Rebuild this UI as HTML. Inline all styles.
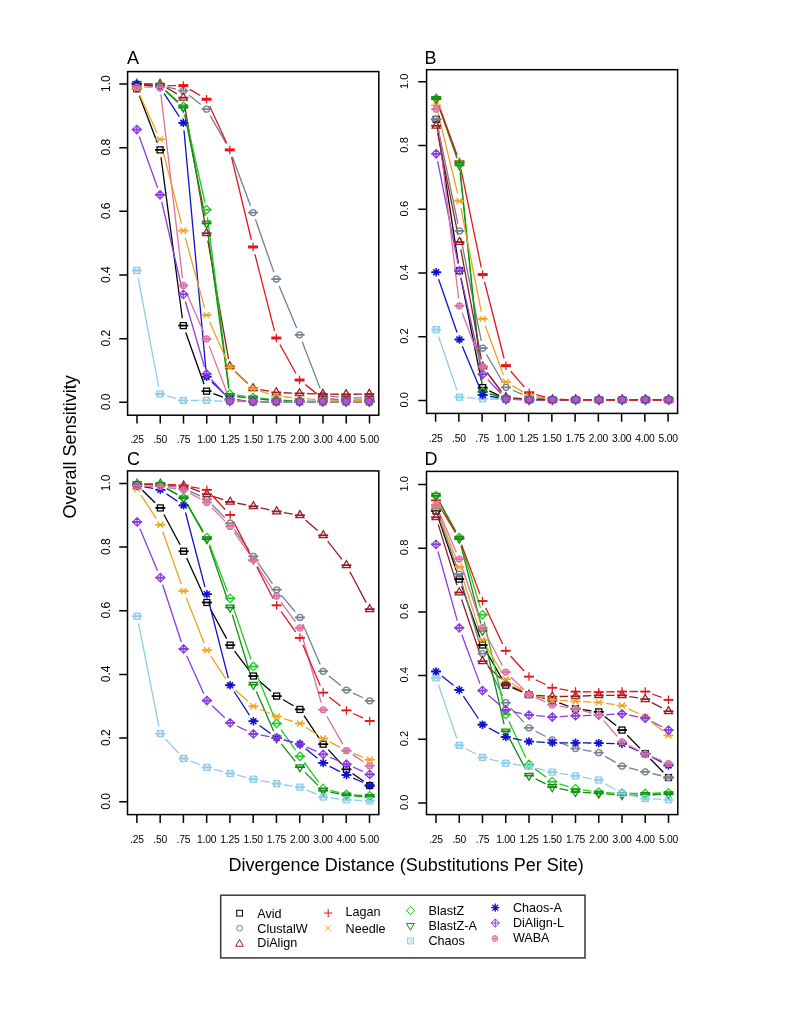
<!DOCTYPE html><html><head><meta charset="utf-8"><title>Overall Sensitivity</title><style>html,body{margin:0;padding:0;background:#fff;}svg{display:block;filter:blur(0.35px);}text{font-family:"Liberation Sans",sans-serif;}</style></head><body><svg width="785" height="1016" viewBox="0 0 785 1016" font-family='"Liberation Sans", sans-serif' fill="#000"><rect width="785" height="1016" fill="#fff"/><path d="M139.43 95.69L157.42 142.97M161.02 157.22L182.33 318.25M185.77 332.56L204.08 384.18M213.49 393.73L222.86 397.19M237.18 400.36L245.67 401.06M260.45 401.66L268.9 401.66M283.7 401.66L292.15 401.66M306.95 401.66L315.4 401.66M330.2 401.66L338.65 401.66M353.45 401.66L361.9 401.66" fill="none" stroke="#000000" stroke-width="1.3"/><path d="M144.18 84.51L152.67 85.09M167.28 87.17L176.07 89.1M189.1 95.29L200.75 104.54M210.22 115.57L226.13 143.46M232.37 156.83L250.48 205.65M255.49 219.58L273.86 272.13M279.15 285.95L296.7 327.99M302.21 341.73L320.14 388.39M330.16 396.1L338.69 397.04M353.45 397.84L361.9 397.84" fill="none" stroke="#708090" stroke-width="1.3"/><path d="M144.2 84L152.65 84M166.43 87.75L176.92 93.93M184.55 104.98L205.3 225.99M207.82 240.57L228.53 359.04M235.18 371.41L247.67 383.21M260.34 389.59L269.01 391.14M283.69 392.74L292.16 393.08M306.95 393.59L315.4 393.82M330.2 394.13L338.65 394.24M353.45 394.24L361.9 394.13" fill="none" stroke="#9A1A26" stroke-width="1.3"/><path d="M144.18 84.51L152.67 85.09M165.58 90.51L177.77 101.36M184.92 113.5L204.93 202.51M207.48 217.07L228.87 386.68M237.12 395.13L245.73 396.42M260.42 398.23L268.93 399.05M283.68 400.26L292.17 400.84M306.95 401.35L315.4 401.35M330.2 401.35L338.65 401.35M353.45 401.35L361.9 401.35" fill="none" stroke="#1ECC1E" stroke-width="1.3"/><path d="M144.18 84.51L152.67 85.09M165.43 90.67L177.92 102.47M184.76 114.81L205.09 216.16M207.54 230.75L228.81 388.6M237.16 396.74L245.69 397.67M260.42 399.19L268.93 400M283.7 400.91L292.15 401.14M306.95 401.35L315.4 401.35M330.2 401.35L338.65 401.35M353.45 401.35L361.9 401.35" fill="none" stroke="#128C12" stroke-width="1.3"/><path d="M138.17 277.8L158.68 386.75M167.19 395.98L176.16 398.44M190.7 400.39L199.15 400.39M213.94 400.79L222.41 401.26M237.2 401.66L245.65 401.66M260.45 401.66L268.9 401.66M283.7 401.66L292.15 401.66M306.95 401.66L315.4 401.66M330.2 401.66L338.65 401.66M353.45 401.66L361.9 401.66" fill="none" stroke="#8CCDEA" stroke-width="1.3"/><path d="M144.13 85L152.72 86.18M164.09 93.38L179.26 116.63M183.97 130.2L205.88 369.47M211.89 381.96L224.46 394M237.16 399.92L245.69 400.86M260.45 401.66L268.9 401.66M283.7 401.66L292.15 401.66M306.95 401.66L315.4 401.66M330.2 401.66L338.65 401.66M353.45 401.66L361.9 401.66" fill="none" stroke="#1010D0" stroke-width="1.3"/><path d="M139.28 136.49L157.57 187.8M161.73 201.97L181.62 287.19M185.38 301.5L204.47 366.87M211.47 379.5L224.88 394.55M237.18 400.58L245.67 401.16M260.45 401.66L268.9 401.66M283.7 401.66L292.15 401.66M306.95 401.66L315.4 401.66M330.2 401.66L338.65 401.66M353.45 401.66L361.9 401.66" fill="none" stroke="#8A3CE0" stroke-width="1.3"/><path d="M144.2 87.18L152.65 87.18M160.91 94.53L182.44 278.13M186.25 292.27L203.6 332.17M209.18 345.87L227.17 393.16M237.18 400.58L245.67 401.16M260.45 401.66L268.9 401.66M283.7 401.66L292.15 401.66M306.95 401.66L315.4 401.66M330.2 401.66L338.65 401.66M353.45 401.66L361.9 401.66" fill="none" stroke="#DC70A0" stroke-width="1.3"/><path d="M144.18 84.51L152.67 85.09M167.45 85.59L175.9 85.59M189.68 89.35L200.17 95.52M209.64 106L226.71 143.16M231.52 157.08L251.33 239.77M254.88 254.14L274.47 330.83M279.88 344.48L295.97 373.54M305.35 384.62L317 393.88M330.18 398.99L338.67 399.57M353.45 400.07L361.9 400.07" fill="none" stroke="#E8141C" stroke-width="1.3"/><path d="M139.89 95.5L156.96 132.66M161.88 146.56L181.47 223.56M185.27 237.87L204.58 307.95M209.56 321.85L226.79 360.53M235.22 372.33L247.63 383.89M260.14 391.07L269.21 393.8M283.66 396.74L292.19 397.67M306.94 398.89L315.41 399.35M330.2 399.96L338.65 400.19M353.45 400.39L361.9 400.39" fill="none" stroke="#F0A21E" stroke-width="1.3"/><path d="M131.8 88.77H141.8" stroke="#000000" stroke-width="1.8"/><rect x="133.8" y="85.77" width="6" height="6" fill="none" stroke="#000000" stroke-width="1.25"/><path d="M155.05 149.89H165.05" stroke="#000000" stroke-width="1.8"/><rect x="157.05" y="146.89" width="6" height="6" fill="none" stroke="#000000" stroke-width="1.25"/><path d="M178.3 325.59H188.3" stroke="#000000" stroke-width="1.8"/><rect x="180.3" y="322.59" width="6" height="6" fill="none" stroke="#000000" stroke-width="1.25"/><path d="M201.55 391.16H211.55" stroke="#000000" stroke-width="1.8"/><rect x="203.55" y="388.16" width="6" height="6" fill="none" stroke="#000000" stroke-width="1.25"/><path d="M224.8 399.75H234.8" stroke="#000000" stroke-width="1.8"/><rect x="226.8" y="396.75" width="6" height="6" fill="none" stroke="#000000" stroke-width="1.25"/><path d="M248.05 401.66H258.05" stroke="#000000" stroke-width="1.8"/><rect x="250.05" y="398.66" width="6" height="6" fill="none" stroke="#000000" stroke-width="1.25"/><path d="M271.3 401.66H281.3" stroke="#000000" stroke-width="1.8"/><rect x="273.3" y="398.66" width="6" height="6" fill="none" stroke="#000000" stroke-width="1.25"/><path d="M294.55 401.66H304.55" stroke="#000000" stroke-width="1.8"/><rect x="296.55" y="398.66" width="6" height="6" fill="none" stroke="#000000" stroke-width="1.25"/><path d="M317.8 401.66H327.8" stroke="#000000" stroke-width="1.8"/><rect x="319.8" y="398.66" width="6" height="6" fill="none" stroke="#000000" stroke-width="1.25"/><path d="M341.05 401.66H351.05" stroke="#000000" stroke-width="1.8"/><rect x="343.05" y="398.66" width="6" height="6" fill="none" stroke="#000000" stroke-width="1.25"/><path d="M364.3 401.66H374.3" stroke="#000000" stroke-width="1.8"/><rect x="366.3" y="398.66" width="6" height="6" fill="none" stroke="#000000" stroke-width="1.25"/><path d="M131.8 84H141.8" stroke="#708090" stroke-width="1.8"/><circle cx="136.8" cy="84" r="3" fill="none" stroke="#708090" stroke-width="1.25"/><path d="M155.05 85.59H165.05" stroke="#708090" stroke-width="1.8"/><circle cx="160.05" cy="85.59" r="3" fill="none" stroke="#708090" stroke-width="1.25"/><path d="M178.3 90.68H188.3" stroke="#708090" stroke-width="1.8"/><circle cx="183.3" cy="90.68" r="3" fill="none" stroke="#708090" stroke-width="1.25"/><path d="M201.55 109.15H211.55" stroke="#708090" stroke-width="1.8"/><circle cx="206.55" cy="109.15" r="3" fill="none" stroke="#708090" stroke-width="1.25"/><path d="M248.05 212.59H258.05" stroke="#708090" stroke-width="1.8"/><circle cx="253.05" cy="212.59" r="3" fill="none" stroke="#708090" stroke-width="1.25"/><path d="M271.3 279.12H281.3" stroke="#708090" stroke-width="1.8"/><circle cx="276.3" cy="279.12" r="3" fill="none" stroke="#708090" stroke-width="1.25"/><path d="M294.55 334.82H304.55" stroke="#708090" stroke-width="1.8"/><circle cx="299.55" cy="334.82" r="3" fill="none" stroke="#708090" stroke-width="1.25"/><path d="M317.8 395.3H327.8" stroke="#708090" stroke-width="1.8"/><circle cx="322.8" cy="395.3" r="3" fill="none" stroke="#708090" stroke-width="1.25"/><path d="M341.05 397.84H351.05" stroke="#708090" stroke-width="1.8"/><circle cx="346.05" cy="397.84" r="3" fill="none" stroke="#708090" stroke-width="1.25"/><path d="M364.3 397.84H374.3" stroke="#708090" stroke-width="1.8"/><circle cx="369.3" cy="397.84" r="3" fill="none" stroke="#708090" stroke-width="1.25"/><path d="M131.8 84H141.8" stroke="#9A1A26" stroke-width="1.8"/><path d="M136.8 79.33L140.84 86.33L132.76 86.33Z" fill="none" stroke="#9A1A26" stroke-width="1.25"/><path d="M155.05 84H165.05" stroke="#9A1A26" stroke-width="1.8"/><path d="M160.05 79.33L164.09 86.33L156.01 86.33Z" fill="none" stroke="#9A1A26" stroke-width="1.25"/><path d="M178.3 97.69H188.3" stroke="#9A1A26" stroke-width="1.8"/><path d="M183.3 93.02L187.34 100.02L179.26 100.02Z" fill="none" stroke="#9A1A26" stroke-width="1.25"/><path d="M201.55 233.28H211.55" stroke="#9A1A26" stroke-width="1.8"/><path d="M206.55 228.62L210.59 235.62L202.51 235.62Z" fill="none" stroke="#9A1A26" stroke-width="1.25"/><path d="M224.8 366.33H234.8" stroke="#9A1A26" stroke-width="1.8"/><path d="M229.8 361.67L233.84 368.66L225.76 368.66Z" fill="none" stroke="#9A1A26" stroke-width="1.25"/><path d="M248.05 388.29H258.05" stroke="#9A1A26" stroke-width="1.8"/><path d="M253.05 383.63L257.09 390.63L249.01 390.63Z" fill="none" stroke="#9A1A26" stroke-width="1.25"/><path d="M271.3 392.43H281.3" stroke="#9A1A26" stroke-width="1.8"/><path d="M276.3 387.77L280.34 394.77L272.26 394.77Z" fill="none" stroke="#9A1A26" stroke-width="1.25"/><path d="M294.55 393.39H304.55" stroke="#9A1A26" stroke-width="1.8"/><path d="M299.55 388.72L303.59 395.72L295.51 395.72Z" fill="none" stroke="#9A1A26" stroke-width="1.25"/><path d="M317.8 394.02H327.8" stroke="#9A1A26" stroke-width="1.8"/><path d="M322.8 389.36L326.84 396.36L318.76 396.36Z" fill="none" stroke="#9A1A26" stroke-width="1.25"/><path d="M341.05 394.34H351.05" stroke="#9A1A26" stroke-width="1.8"/><path d="M346.05 389.68L350.09 396.68L342.01 396.68Z" fill="none" stroke="#9A1A26" stroke-width="1.25"/><path d="M364.3 394.02H374.3" stroke="#9A1A26" stroke-width="1.8"/><path d="M369.3 389.36L373.34 396.36L365.26 396.36Z" fill="none" stroke="#9A1A26" stroke-width="1.25"/><path d="M131.8 84H141.8" stroke="#E8141C" stroke-width="3.0"/><path d="M132.56 84H141.04M136.8 79.76V88.24" stroke="#E8141C" stroke-width="1.25"/><path d="M155.05 85.59H165.05" stroke="#E8141C" stroke-width="3.0"/><path d="M155.81 85.59H164.29M160.05 81.35V89.83" stroke="#E8141C" stroke-width="1.25"/><path d="M178.3 85.59H188.3" stroke="#E8141C" stroke-width="3.0"/><path d="M179.06 85.59H187.54M183.3 81.35V89.83" stroke="#E8141C" stroke-width="1.25"/><path d="M201.55 99.28H211.55" stroke="#E8141C" stroke-width="3.0"/><path d="M202.31 99.28H210.79M206.55 95.04V103.52" stroke="#E8141C" stroke-width="1.25"/><path d="M224.8 149.89H234.8" stroke="#E8141C" stroke-width="3.0"/><path d="M225.56 149.89H234.04M229.8 145.65V154.13" stroke="#E8141C" stroke-width="1.25"/><path d="M248.05 246.97H258.05" stroke="#E8141C" stroke-width="3.0"/><path d="M248.81 246.97H257.29M253.05 242.73V251.21" stroke="#E8141C" stroke-width="1.25"/><path d="M271.3 338H281.3" stroke="#E8141C" stroke-width="3.0"/><path d="M272.06 338H280.54M276.3 333.76V342.25" stroke="#E8141C" stroke-width="1.25"/><path d="M294.55 380.02H304.55" stroke="#E8141C" stroke-width="3.0"/><path d="M295.31 380.02H303.79M299.55 375.78V384.26" stroke="#E8141C" stroke-width="1.25"/><path d="M317.8 398.48H327.8" stroke="#E8141C" stroke-width="3.0"/><path d="M318.56 398.48H327.04M322.8 394.24V402.72" stroke="#E8141C" stroke-width="1.25"/><path d="M341.05 400.07H351.05" stroke="#E8141C" stroke-width="3.0"/><path d="M341.81 400.07H350.29M346.05 395.83V404.31" stroke="#E8141C" stroke-width="1.25"/><path d="M364.3 400.07H374.3" stroke="#E8141C" stroke-width="3.0"/><path d="M365.06 400.07H373.54M369.3 395.83V404.31" stroke="#E8141C" stroke-width="1.25"/><path d="M131.8 88.77H141.8" stroke="#F0A21E" stroke-width="1.8"/><path d="M133.8 85.77L139.8 91.77M133.8 91.77L139.8 85.77" stroke="#F0A21E" stroke-width="1.25"/><path d="M155.05 139.38H165.05" stroke="#F0A21E" stroke-width="1.8"/><path d="M157.05 136.38L163.05 142.38M157.05 142.38L163.05 136.38" stroke="#F0A21E" stroke-width="1.25"/><path d="M178.3 230.74H188.3" stroke="#F0A21E" stroke-width="1.8"/><path d="M180.3 227.74L186.3 233.74M180.3 233.74L186.3 227.74" stroke="#F0A21E" stroke-width="1.25"/><path d="M201.55 315.09H211.55" stroke="#F0A21E" stroke-width="1.8"/><path d="M203.55 312.09L209.55 318.09M203.55 318.09L209.55 312.09" stroke="#F0A21E" stroke-width="1.25"/><path d="M224.8 367.29H234.8" stroke="#F0A21E" stroke-width="1.8"/><path d="M226.8 364.29L232.8 370.29M226.8 370.29L232.8 364.29" stroke="#F0A21E" stroke-width="1.25"/><path d="M248.05 388.93H258.05" stroke="#F0A21E" stroke-width="1.8"/><path d="M250.05 385.93L256.05 391.93M250.05 391.93L256.05 385.93" stroke="#F0A21E" stroke-width="1.25"/><path d="M271.3 395.93H281.3" stroke="#F0A21E" stroke-width="1.8"/><path d="M273.3 392.93L279.3 398.93M273.3 398.93L279.3 392.93" stroke="#F0A21E" stroke-width="1.25"/><path d="M294.55 398.48H304.55" stroke="#F0A21E" stroke-width="1.8"/><path d="M296.55 395.48L302.55 401.48M296.55 401.48L302.55 395.48" stroke="#F0A21E" stroke-width="1.25"/><path d="M317.8 399.75H327.8" stroke="#F0A21E" stroke-width="1.8"/><path d="M319.8 396.75L325.8 402.75M319.8 402.75L325.8 396.75" stroke="#F0A21E" stroke-width="1.25"/><path d="M341.05 400.39H351.05" stroke="#F0A21E" stroke-width="1.8"/><path d="M343.05 397.39L349.05 403.39M343.05 403.39L349.05 397.39" stroke="#F0A21E" stroke-width="1.25"/><path d="M364.3 400.39H374.3" stroke="#F0A21E" stroke-width="1.8"/><path d="M366.3 397.39L372.3 403.39M366.3 403.39L372.3 397.39" stroke="#F0A21E" stroke-width="1.25"/><path d="M131.8 84H141.8" stroke="#1ECC1E" stroke-width="1.8"/><path d="M136.8 79.76L141.04 84L136.8 88.24L132.56 84Z" fill="none" stroke="#1ECC1E" stroke-width="1.25"/><path d="M155.05 85.59H165.05" stroke="#1ECC1E" stroke-width="1.8"/><path d="M160.05 81.35L164.29 85.59L160.05 89.83L155.81 85.59Z" fill="none" stroke="#1ECC1E" stroke-width="1.25"/><path d="M178.3 106.28H188.3" stroke="#1ECC1E" stroke-width="1.8"/><path d="M183.3 102.04L187.54 106.28L183.3 110.52L179.06 106.28Z" fill="none" stroke="#1ECC1E" stroke-width="1.25"/><path d="M201.55 209.73H211.55" stroke="#1ECC1E" stroke-width="1.8"/><path d="M206.55 205.49L210.79 209.73L206.55 213.97L202.31 209.73Z" fill="none" stroke="#1ECC1E" stroke-width="1.25"/><path d="M224.8 394.02H234.8" stroke="#1ECC1E" stroke-width="1.8"/><path d="M229.8 389.78L234.04 394.02L229.8 398.27L225.56 394.02Z" fill="none" stroke="#1ECC1E" stroke-width="1.25"/><path d="M248.05 397.53H258.05" stroke="#1ECC1E" stroke-width="1.8"/><path d="M253.05 393.28L257.29 397.53L253.05 401.77L248.81 397.53Z" fill="none" stroke="#1ECC1E" stroke-width="1.25"/><path d="M271.3 399.75H281.3" stroke="#1ECC1E" stroke-width="1.8"/><path d="M276.3 395.51L280.54 399.75L276.3 404L272.06 399.75Z" fill="none" stroke="#1ECC1E" stroke-width="1.25"/><path d="M294.55 401.35H304.55" stroke="#1ECC1E" stroke-width="1.8"/><path d="M299.55 397.1L303.79 401.35L299.55 405.59L295.31 401.35Z" fill="none" stroke="#1ECC1E" stroke-width="1.25"/><path d="M317.8 401.35H327.8" stroke="#1ECC1E" stroke-width="1.8"/><path d="M322.8 397.1L327.04 401.35L322.8 405.59L318.56 401.35Z" fill="none" stroke="#1ECC1E" stroke-width="1.25"/><path d="M341.05 401.35H351.05" stroke="#1ECC1E" stroke-width="1.8"/><path d="M346.05 397.1L350.29 401.35L346.05 405.59L341.81 401.35Z" fill="none" stroke="#1ECC1E" stroke-width="1.25"/><path d="M364.3 401.35H374.3" stroke="#1ECC1E" stroke-width="1.8"/><path d="M369.3 397.1L373.54 401.35L369.3 405.59L365.06 401.35Z" fill="none" stroke="#1ECC1E" stroke-width="1.25"/><path d="M131.8 84H141.8" stroke="#128C12" stroke-width="1.8"/><path d="M136.8 88.67L140.84 81.67L132.76 81.67Z" fill="none" stroke="#128C12" stroke-width="1.25"/><path d="M155.05 85.59H165.05" stroke="#128C12" stroke-width="1.8"/><path d="M160.05 90.26L164.09 83.26L156.01 83.26Z" fill="none" stroke="#128C12" stroke-width="1.25"/><path d="M178.3 107.55H188.3" stroke="#128C12" stroke-width="1.8"/><path d="M183.3 112.22L187.34 105.22L179.26 105.22Z" fill="none" stroke="#128C12" stroke-width="1.25"/><path d="M201.55 223.42H211.55" stroke="#128C12" stroke-width="1.8"/><path d="M206.55 228.08L210.59 221.08L202.51 221.08Z" fill="none" stroke="#128C12" stroke-width="1.25"/><path d="M224.8 395.93H234.8" stroke="#128C12" stroke-width="1.8"/><path d="M229.8 400.6L233.84 393.6L225.76 393.6Z" fill="none" stroke="#128C12" stroke-width="1.25"/><path d="M248.05 398.48H258.05" stroke="#128C12" stroke-width="1.8"/><path d="M253.05 403.15L257.09 396.15L249.01 396.15Z" fill="none" stroke="#128C12" stroke-width="1.25"/><path d="M271.3 400.71H281.3" stroke="#128C12" stroke-width="1.8"/><path d="M276.3 405.37L280.34 398.38L272.26 398.38Z" fill="none" stroke="#128C12" stroke-width="1.25"/><path d="M294.55 401.35H304.55" stroke="#128C12" stroke-width="1.8"/><path d="M299.55 406.01L303.59 399.01L295.51 399.01Z" fill="none" stroke="#128C12" stroke-width="1.25"/><path d="M317.8 401.35H327.8" stroke="#128C12" stroke-width="1.8"/><path d="M322.8 406.01L326.84 399.01L318.76 399.01Z" fill="none" stroke="#128C12" stroke-width="1.25"/><path d="M341.05 401.35H351.05" stroke="#128C12" stroke-width="1.8"/><path d="M346.05 406.01L350.09 399.01L342.01 399.01Z" fill="none" stroke="#128C12" stroke-width="1.25"/><path d="M364.3 401.35H374.3" stroke="#128C12" stroke-width="1.8"/><path d="M369.3 406.01L373.34 399.01L365.26 399.01Z" fill="none" stroke="#128C12" stroke-width="1.25"/><path d="M131.8 270.52H141.8" stroke="#8CCDEA" stroke-width="1.8"/><rect x="133.8" y="267.52" width="6" height="6" fill="none" stroke="#8CCDEA" stroke-width="1.25"/><path d="M133.8 267.52L139.8 273.52M133.8 273.52L139.8 267.52" stroke="#8CCDEA" stroke-width="1.0"/><path d="M155.05 394.02H165.05" stroke="#8CCDEA" stroke-width="1.8"/><rect x="157.05" y="391.02" width="6" height="6" fill="none" stroke="#8CCDEA" stroke-width="1.25"/><path d="M157.05 391.02L163.05 397.02M157.05 397.02L163.05 391.02" stroke="#8CCDEA" stroke-width="1.0"/><path d="M178.3 400.39H188.3" stroke="#8CCDEA" stroke-width="1.8"/><rect x="180.3" y="397.39" width="6" height="6" fill="none" stroke="#8CCDEA" stroke-width="1.25"/><path d="M180.3 397.39L186.3 403.39M180.3 403.39L186.3 397.39" stroke="#8CCDEA" stroke-width="1.0"/><path d="M201.55 400.39H211.55" stroke="#8CCDEA" stroke-width="1.8"/><rect x="203.55" y="397.39" width="6" height="6" fill="none" stroke="#8CCDEA" stroke-width="1.25"/><path d="M203.55 397.39L209.55 403.39M203.55 403.39L209.55 397.39" stroke="#8CCDEA" stroke-width="1.0"/><path d="M224.8 401.66H234.8" stroke="#8CCDEA" stroke-width="1.8"/><rect x="226.8" y="398.66" width="6" height="6" fill="none" stroke="#8CCDEA" stroke-width="1.25"/><path d="M226.8 398.66L232.8 404.66M226.8 404.66L232.8 398.66" stroke="#8CCDEA" stroke-width="1.0"/><path d="M248.05 401.66H258.05" stroke="#8CCDEA" stroke-width="1.8"/><rect x="250.05" y="398.66" width="6" height="6" fill="none" stroke="#8CCDEA" stroke-width="1.25"/><path d="M250.05 398.66L256.05 404.66M250.05 404.66L256.05 398.66" stroke="#8CCDEA" stroke-width="1.0"/><path d="M271.3 401.66H281.3" stroke="#8CCDEA" stroke-width="1.8"/><rect x="273.3" y="398.66" width="6" height="6" fill="none" stroke="#8CCDEA" stroke-width="1.25"/><path d="M273.3 398.66L279.3 404.66M273.3 404.66L279.3 398.66" stroke="#8CCDEA" stroke-width="1.0"/><path d="M294.55 401.66H304.55" stroke="#8CCDEA" stroke-width="1.8"/><rect x="296.55" y="398.66" width="6" height="6" fill="none" stroke="#8CCDEA" stroke-width="1.25"/><path d="M296.55 398.66L302.55 404.66M296.55 404.66L302.55 398.66" stroke="#8CCDEA" stroke-width="1.0"/><path d="M317.8 401.66H327.8" stroke="#8CCDEA" stroke-width="1.8"/><rect x="319.8" y="398.66" width="6" height="6" fill="none" stroke="#8CCDEA" stroke-width="1.25"/><path d="M319.8 398.66L325.8 404.66M319.8 404.66L325.8 398.66" stroke="#8CCDEA" stroke-width="1.0"/><path d="M341.05 401.66H351.05" stroke="#8CCDEA" stroke-width="1.8"/><rect x="343.05" y="398.66" width="6" height="6" fill="none" stroke="#8CCDEA" stroke-width="1.25"/><path d="M343.05 398.66L349.05 404.66M343.05 404.66L349.05 398.66" stroke="#8CCDEA" stroke-width="1.0"/><path d="M364.3 401.66H374.3" stroke="#8CCDEA" stroke-width="1.8"/><rect x="366.3" y="398.66" width="6" height="6" fill="none" stroke="#8CCDEA" stroke-width="1.25"/><path d="M366.3 398.66L372.3 404.66M366.3 404.66L372.3 398.66" stroke="#8CCDEA" stroke-width="1.0"/><path d="M131.8 84H141.8" stroke="#1010D0" stroke-width="1.8"/><path d="M132.56 84H141.04M136.8 79.76V88.24M133.8 81L139.8 87M133.8 87L139.8 81" stroke="#1010D0" stroke-width="1.5625"/><path d="M155.05 87.18H165.05" stroke="#1010D0" stroke-width="1.8"/><path d="M155.81 87.18H164.29M160.05 82.94V91.43M157.05 84.18L163.05 90.18M157.05 90.18L163.05 84.18" stroke="#1010D0" stroke-width="1.5625"/><path d="M178.3 122.83H188.3" stroke="#1010D0" stroke-width="1.8"/><path d="M179.06 122.83H187.54M183.3 118.59V127.08M180.3 119.83L186.3 125.83M180.3 125.83L186.3 119.83" stroke="#1010D0" stroke-width="1.5625"/><path d="M201.55 376.84H211.55" stroke="#1010D0" stroke-width="1.8"/><path d="M202.31 376.84H210.79M206.55 372.59V381.08M203.55 373.84L209.55 379.84M203.55 379.84L209.55 373.84" stroke="#1010D0" stroke-width="1.5625"/><path d="M224.8 399.12H234.8" stroke="#1010D0" stroke-width="1.8"/><path d="M225.56 399.12H234.04M229.8 394.87V403.36M226.8 396.12L232.8 402.12M226.8 402.12L232.8 396.12" stroke="#1010D0" stroke-width="1.5625"/><path d="M248.05 401.66H258.05" stroke="#1010D0" stroke-width="1.8"/><path d="M248.81 401.66H257.29M253.05 397.42V405.91M250.05 398.66L256.05 404.66M250.05 404.66L256.05 398.66" stroke="#1010D0" stroke-width="1.5625"/><path d="M271.3 401.66H281.3" stroke="#1010D0" stroke-width="1.8"/><path d="M272.06 401.66H280.54M276.3 397.42V405.91M273.3 398.66L279.3 404.66M273.3 404.66L279.3 398.66" stroke="#1010D0" stroke-width="1.5625"/><path d="M294.55 401.66H304.55" stroke="#1010D0" stroke-width="1.8"/><path d="M295.31 401.66H303.79M299.55 397.42V405.91M296.55 398.66L302.55 404.66M296.55 404.66L302.55 398.66" stroke="#1010D0" stroke-width="1.5625"/><path d="M317.8 401.66H327.8" stroke="#1010D0" stroke-width="1.8"/><path d="M318.56 401.66H327.04M322.8 397.42V405.91M319.8 398.66L325.8 404.66M319.8 404.66L325.8 398.66" stroke="#1010D0" stroke-width="1.5625"/><path d="M341.05 401.66H351.05" stroke="#1010D0" stroke-width="1.8"/><path d="M341.81 401.66H350.29M346.05 397.42V405.91M343.05 398.66L349.05 404.66M343.05 404.66L349.05 398.66" stroke="#1010D0" stroke-width="1.5625"/><path d="M364.3 401.66H374.3" stroke="#1010D0" stroke-width="1.8"/><path d="M365.06 401.66H373.54M369.3 397.42V405.91M366.3 398.66L372.3 404.66M366.3 404.66L372.3 398.66" stroke="#1010D0" stroke-width="1.5625"/><path d="M131.8 129.52H141.8" stroke="#8A3CE0" stroke-width="1.8"/><path d="M136.8 125.27L141.04 129.52L136.8 133.76L132.56 129.52ZM132.56 129.52H141.04M136.8 125.27V133.76" fill="none" stroke="#8A3CE0" stroke-width="1.25"/><path d="M155.05 194.77H165.05" stroke="#8A3CE0" stroke-width="1.8"/><path d="M160.05 190.53L164.29 194.77L160.05 199.01L155.81 194.77ZM155.81 194.77H164.29M160.05 190.53V199.01" fill="none" stroke="#8A3CE0" stroke-width="1.25"/><path d="M178.3 294.4H188.3" stroke="#8A3CE0" stroke-width="1.8"/><path d="M183.3 290.15L187.54 294.4L183.3 298.64L179.06 294.4ZM179.06 294.4H187.54M183.3 290.15V298.64" fill="none" stroke="#8A3CE0" stroke-width="1.25"/><path d="M201.55 373.97H211.55" stroke="#8A3CE0" stroke-width="1.8"/><path d="M206.55 369.73L210.79 373.97L206.55 378.21L202.31 373.97ZM202.31 373.97H210.79M206.55 369.73V378.21" fill="none" stroke="#8A3CE0" stroke-width="1.25"/><path d="M224.8 400.07H234.8" stroke="#8A3CE0" stroke-width="1.8"/><path d="M229.8 395.83L234.04 400.07L229.8 404.31L225.56 400.07ZM225.56 400.07H234.04M229.8 395.83V404.31" fill="none" stroke="#8A3CE0" stroke-width="1.25"/><path d="M248.05 401.66H258.05" stroke="#8A3CE0" stroke-width="1.8"/><path d="M253.05 397.42L257.29 401.66L253.05 405.91L248.81 401.66ZM248.81 401.66H257.29M253.05 397.42V405.91" fill="none" stroke="#8A3CE0" stroke-width="1.25"/><path d="M271.3 401.66H281.3" stroke="#8A3CE0" stroke-width="1.8"/><path d="M276.3 397.42L280.54 401.66L276.3 405.91L272.06 401.66ZM272.06 401.66H280.54M276.3 397.42V405.91" fill="none" stroke="#8A3CE0" stroke-width="1.25"/><path d="M294.55 401.66H304.55" stroke="#8A3CE0" stroke-width="1.8"/><path d="M299.55 397.42L303.79 401.66L299.55 405.91L295.31 401.66ZM295.31 401.66H303.79M299.55 397.42V405.91" fill="none" stroke="#8A3CE0" stroke-width="1.25"/><path d="M317.8 401.66H327.8" stroke="#8A3CE0" stroke-width="1.8"/><path d="M322.8 397.42L327.04 401.66L322.8 405.91L318.56 401.66ZM318.56 401.66H327.04M322.8 397.42V405.91" fill="none" stroke="#8A3CE0" stroke-width="1.25"/><path d="M341.05 401.66H351.05" stroke="#8A3CE0" stroke-width="1.8"/><path d="M346.05 397.42L350.29 401.66L346.05 405.91L341.81 401.66ZM341.81 401.66H350.29M346.05 397.42V405.91" fill="none" stroke="#8A3CE0" stroke-width="1.25"/><path d="M364.3 401.66H374.3" stroke="#8A3CE0" stroke-width="1.8"/><path d="M369.3 397.42L373.54 401.66L369.3 405.91L365.06 401.66ZM365.06 401.66H373.54M369.3 397.42V405.91" fill="none" stroke="#8A3CE0" stroke-width="1.25"/><path d="M131.8 87.18H141.8" stroke="#DC70A0" stroke-width="1.8"/><circle cx="136.8" cy="87.18" r="3" fill="#DC70A0" fill-opacity="0.4" stroke="#DC70A0" stroke-width="1.25"/><path d="M133.8 87.18H139.8M136.8 84.18V90.18" stroke="#DC70A0" stroke-width="1.0"/><path d="M155.05 87.18H165.05" stroke="#DC70A0" stroke-width="1.8"/><circle cx="160.05" cy="87.18" r="3" fill="#DC70A0" fill-opacity="0.4" stroke="#DC70A0" stroke-width="1.25"/><path d="M157.05 87.18H163.05M160.05 84.18V90.18" stroke="#DC70A0" stroke-width="1.0"/><path d="M178.3 285.48H188.3" stroke="#DC70A0" stroke-width="1.8"/><circle cx="183.3" cy="285.48" r="3" fill="#DC70A0" fill-opacity="0.4" stroke="#DC70A0" stroke-width="1.25"/><path d="M180.3 285.48H186.3M183.3 282.48V288.48" stroke="#DC70A0" stroke-width="1.0"/><path d="M201.55 338.96H211.55" stroke="#DC70A0" stroke-width="1.8"/><circle cx="206.55" cy="338.96" r="3" fill="#DC70A0" fill-opacity="0.4" stroke="#DC70A0" stroke-width="1.25"/><path d="M203.55 338.96H209.55M206.55 335.96V341.96" stroke="#DC70A0" stroke-width="1.0"/><path d="M224.8 400.07H234.8" stroke="#DC70A0" stroke-width="1.8"/><circle cx="229.8" cy="400.07" r="3" fill="#DC70A0" fill-opacity="0.4" stroke="#DC70A0" stroke-width="1.25"/><path d="M226.8 400.07H232.8M229.8 397.07V403.07" stroke="#DC70A0" stroke-width="1.0"/><path d="M248.05 401.66H258.05" stroke="#DC70A0" stroke-width="1.8"/><circle cx="253.05" cy="401.66" r="3" fill="#DC70A0" fill-opacity="0.4" stroke="#DC70A0" stroke-width="1.25"/><path d="M250.05 401.66H256.05M253.05 398.66V404.66" stroke="#DC70A0" stroke-width="1.0"/><path d="M271.3 401.66H281.3" stroke="#DC70A0" stroke-width="1.8"/><circle cx="276.3" cy="401.66" r="3" fill="#DC70A0" fill-opacity="0.4" stroke="#DC70A0" stroke-width="1.25"/><path d="M273.3 401.66H279.3M276.3 398.66V404.66" stroke="#DC70A0" stroke-width="1.0"/><path d="M294.55 401.66H304.55" stroke="#DC70A0" stroke-width="1.8"/><circle cx="299.55" cy="401.66" r="3" fill="#DC70A0" fill-opacity="0.4" stroke="#DC70A0" stroke-width="1.25"/><path d="M296.55 401.66H302.55M299.55 398.66V404.66" stroke="#DC70A0" stroke-width="1.0"/><path d="M317.8 401.66H327.8" stroke="#DC70A0" stroke-width="1.8"/><circle cx="322.8" cy="401.66" r="3" fill="#DC70A0" fill-opacity="0.4" stroke="#DC70A0" stroke-width="1.25"/><path d="M319.8 401.66H325.8M322.8 398.66V404.66" stroke="#DC70A0" stroke-width="1.0"/><path d="M341.05 401.66H351.05" stroke="#DC70A0" stroke-width="1.8"/><circle cx="346.05" cy="401.66" r="3" fill="#DC70A0" fill-opacity="0.4" stroke="#DC70A0" stroke-width="1.25"/><path d="M343.05 401.66H349.05M346.05 398.66V404.66" stroke="#DC70A0" stroke-width="1.0"/><path d="M364.3 401.66H374.3" stroke="#DC70A0" stroke-width="1.8"/><circle cx="369.3" cy="401.66" r="3" fill="#DC70A0" fill-opacity="0.4" stroke="#DC70A0" stroke-width="1.25"/><path d="M366.3 401.66H372.3M369.3 398.66V404.66" stroke="#DC70A0" stroke-width="1.0"/><circle cx="229.8" cy="401.35" r="3.5" fill="#AE5ACC" stroke="#703494" stroke-width="0.9"/><path d="M229.8 396.15V397.75M229.8 404.95V406.55" stroke="#6A2E8E" stroke-width="1"/><circle cx="253.05" cy="401.35" r="3.5" fill="#AE5ACC" stroke="#703494" stroke-width="0.9"/><path d="M253.05 396.15V397.75M253.05 404.95V406.55" stroke="#6A2E8E" stroke-width="1"/><circle cx="276.3" cy="401.35" r="3.5" fill="#AE5ACC" stroke="#703494" stroke-width="0.9"/><path d="M276.3 396.15V397.75M276.3 404.95V406.55" stroke="#6A2E8E" stroke-width="1"/><circle cx="299.55" cy="401.35" r="3.5" fill="#AE5ACC" stroke="#703494" stroke-width="0.9"/><path d="M299.55 396.15V397.75M299.55 404.95V406.55" stroke="#6A2E8E" stroke-width="1"/><circle cx="322.8" cy="401.35" r="3.5" fill="#AE5ACC" stroke="#703494" stroke-width="0.9"/><path d="M322.8 396.15V397.75M322.8 404.95V406.55" stroke="#6A2E8E" stroke-width="1"/><circle cx="346.05" cy="401.35" r="3.5" fill="#AE5ACC" stroke="#703494" stroke-width="0.9"/><path d="M346.05 396.15V397.75M346.05 404.95V406.55" stroke="#6A2E8E" stroke-width="1"/><circle cx="369.3" cy="401.35" r="3.5" fill="#AE5ACC" stroke="#703494" stroke-width="0.9"/><path d="M369.3 396.15V397.75M369.3 404.95V406.55" stroke="#6A2E8E" stroke-width="1"/><rect x="127.6" y="71.6" width="251.2" height="343.6" fill="none" stroke="#000" stroke-width="1.5"/><path d="M137 415.2V423.5M160.25 415.2V423.5M183.5 415.2V423.5M206.75 415.2V423.5M230 415.2V423.5M253.25 415.2V423.5M276.5 415.2V423.5M299.75 415.2V423.5M323 415.2V423.5M346.25 415.2V423.5M369.5 415.2V423.5M127.6 402.3H119.3M127.6 338.64H119.3M127.6 274.98H119.3M127.6 211.32H119.3M127.6 147.66H119.3M127.6 84H119.3" stroke="#000" stroke-width="1.5" fill="none"/><text x="137" y="443.3" font-size="10.3" letter-spacing="-0.2" text-anchor="middle">.25</text><text x="160.25" y="443.3" font-size="10.3" letter-spacing="-0.2" text-anchor="middle">.50</text><text x="183.5" y="443.3" font-size="10.3" letter-spacing="-0.2" text-anchor="middle">.75</text><text x="206.75" y="443.3" font-size="10.3" letter-spacing="-0.2" text-anchor="middle">1.00</text><text x="230" y="443.3" font-size="10.3" letter-spacing="-0.2" text-anchor="middle">1.25</text><text x="253.25" y="443.3" font-size="10.3" letter-spacing="-0.2" text-anchor="middle">1.50</text><text x="276.5" y="443.3" font-size="10.3" letter-spacing="-0.2" text-anchor="middle">1.75</text><text x="299.75" y="443.3" font-size="10.3" letter-spacing="-0.2" text-anchor="middle">2.00</text><text x="323" y="443.3" font-size="10.3" letter-spacing="-0.2" text-anchor="middle">3.00</text><text x="346.25" y="443.3" font-size="10.3" letter-spacing="-0.2" text-anchor="middle">4.00</text><text x="369.5" y="443.3" font-size="10.3" letter-spacing="-0.2" text-anchor="middle">5.00</text><text transform="translate(109.8 401.9) rotate(-90)" font-size="12" text-anchor="middle">0.0</text><text transform="translate(109.8 338.24) rotate(-90)" font-size="12" text-anchor="middle">0.2</text><text transform="translate(109.8 274.58) rotate(-90)" font-size="12" text-anchor="middle">0.4</text><text transform="translate(109.8 210.92) rotate(-90)" font-size="12" text-anchor="middle">0.6</text><text transform="translate(109.8 147.26) rotate(-90)" font-size="12" text-anchor="middle">0.8</text><text transform="translate(109.8 83.6) rotate(-90)" font-size="12" text-anchor="middle">1.0</text><text x="127.1" y="64.3" font-size="18">A</text><path d="M437.32 126.71L458.33 263.42M460.89 277.99L481.26 380.4M489.37 390.86L499.28 395.61M513.34 399.11L521.81 399.46M536.6 399.76L545.05 399.76M559.85 399.76L568.3 399.76M583.1 399.76L591.55 399.76M606.35 399.76L614.8 399.76M629.6 399.76L638.05 399.76M652.85 399.76L661.3 399.76" fill="none" stroke="#000000" stroke-width="1.3"/><path d="M437.71 126.32L457.94 223.66M460.89 238.16L481.26 340.89M486.48 354.51L502.17 380.97M512.76 390.23L522.39 394.32M536.56 398.02L545.09 398.96M559.85 399.76L568.3 399.76M583.1 399.76L591.55 399.76M606.35 399.76L614.8 399.76M629.6 399.76L638.05 399.76M652.85 399.76L661.3 399.76" fill="none" stroke="#708090" stroke-width="1.3"/><path d="M438.7 105.33L456.95 156.08M460.2 170.41L481.95 384.44M489.79 393.93L498.86 396.67M513.34 399.11L521.81 399.46M536.6 399.76L545.05 399.76M559.85 399.76L568.3 399.76M583.1 399.76L591.55 399.76M606.35 399.76L614.8 399.76M629.6 399.76L638.05 399.76M652.85 399.76L661.3 399.76" fill="none" stroke="#1ECC1E" stroke-width="1.3"/><path d="M438.65 105.99L457 158.29M460.21 172.63L481.94 384.44M489.79 393.93L498.86 396.67M513.34 399.11L521.81 399.46M536.6 399.76L545.05 399.76M559.85 399.76L568.3 399.76M583.1 399.76L591.55 399.76M606.35 399.76L614.8 399.76M629.6 399.76L638.05 399.76M652.85 399.76L661.3 399.76" fill="none" stroke="#128C12" stroke-width="1.3"/><path d="M438.61 336.67L457.04 390.22M466.83 397.72L475.32 398.3M490.1 399.01L498.55 399.24M513.35 399.55L521.8 399.66M536.6 399.76L545.05 399.76M559.85 399.76L568.3 399.76M583.1 399.76L591.55 399.76M606.35 399.76L614.8 399.76M629.6 399.76L638.05 399.76M652.85 399.76L661.3 399.76" fill="none" stroke="#8CCDEA" stroke-width="1.3"/><path d="M438.62 279.32L457.03 332.55M462.31 346.37L479.84 388.16M489.99 396.28L498.66 397.83M513.35 399.33L521.8 399.56M536.6 399.76L545.05 399.76M559.85 399.76L568.3 399.76M583.1 399.76L591.55 399.76M606.35 399.76L614.8 399.76M629.6 399.76L638.05 399.76M652.85 399.76L661.3 399.76" fill="none" stroke="#1010D0" stroke-width="1.3"/><path d="M437.64 161.06L458.01 263.47M461.07 277.95L481.08 367.05M487.79 379.65L500.86 393.44M513.34 399.11L521.81 399.46M536.6 399.76L545.05 399.76M559.85 399.76L568.3 399.76M583.1 399.76L591.55 399.76M606.35 399.76L614.8 399.76M629.6 399.76L638.05 399.76M652.85 399.76L661.3 399.76" fill="none" stroke="#8A3CE0" stroke-width="1.3"/><path d="M437.07 116.55L458.58 298.43M462.09 312.69L480.06 359.72M487.03 372.63L501.62 392.81M513.34 399.11L521.81 399.46M536.6 399.76L545.05 399.76M559.85 399.76L568.3 399.76M583.1 399.76L591.55 399.76M606.35 399.76L614.8 399.76M629.6 399.76L638.05 399.76M652.85 399.76L661.3 399.76" fill="none" stroke="#DC70A0" stroke-width="1.3"/><path d="M437.95 112.57L457.7 193.77M460.88 208.22L481.27 311.58M485.26 325.78L503.39 374.98M512.33 385.68L522.82 391.86M536.52 396.72L545.13 398.02M559.85 399.33L568.3 399.56M583.1 399.76L591.55 399.76M606.35 399.76L614.8 399.76M629.6 399.76L638.05 399.76M652.85 399.76L661.3 399.76" fill="none" stroke="#F0A21E" stroke-width="1.3"/><path d="M437.65 133.02L458 234.8M460.81 249.33L481.34 359.35M487.18 372.52L501.47 391.32M513.32 397.92L521.83 398.74M536.6 399.55L545.05 399.66M559.85 399.76L568.3 399.76M583.1 399.76L591.55 399.76M606.35 399.76L614.8 399.76M629.6 399.76L638.05 399.76M652.85 399.76L661.3 399.76" fill="none" stroke="#9A1A26" stroke-width="1.3"/><path d="M438.74 105L456.91 154.82M460.94 169.02L481.21 267.31M484.53 281.72L504.12 358.5M510.77 371.29L524.38 387.14M536.34 394.71L545.31 397.17M559.85 399.33L568.3 399.56M583.1 399.76L591.55 399.76M606.35 399.76L614.8 399.76M629.6 399.76L638.05 399.76M652.85 399.76L661.3 399.76" fill="none" stroke="#E8141C" stroke-width="1.3"/><path d="M431.2 119.39H441.2" stroke="#000000" stroke-width="1.8"/><rect x="433.2" y="116.39" width="6" height="6" fill="none" stroke="#000000" stroke-width="1.25"/><path d="M454.45 270.73H464.45" stroke="#000000" stroke-width="1.8"/><rect x="456.45" y="267.73" width="6" height="6" fill="none" stroke="#000000" stroke-width="1.25"/><path d="M477.7 387.66H487.7" stroke="#000000" stroke-width="1.8"/><rect x="479.7" y="384.66" width="6" height="6" fill="none" stroke="#000000" stroke-width="1.25"/><path d="M500.95 398.81H510.95" stroke="#000000" stroke-width="1.8"/><rect x="502.95" y="395.81" width="6" height="6" fill="none" stroke="#000000" stroke-width="1.25"/><path d="M524.2 399.76H534.2" stroke="#000000" stroke-width="1.8"/><rect x="526.2" y="396.76" width="6" height="6" fill="none" stroke="#000000" stroke-width="1.25"/><path d="M547.45 399.76H557.45" stroke="#000000" stroke-width="1.8"/><rect x="549.45" y="396.76" width="6" height="6" fill="none" stroke="#000000" stroke-width="1.25"/><path d="M570.7 399.76H580.7" stroke="#000000" stroke-width="1.8"/><rect x="572.7" y="396.76" width="6" height="6" fill="none" stroke="#000000" stroke-width="1.25"/><path d="M593.95 399.76H603.95" stroke="#000000" stroke-width="1.8"/><rect x="595.95" y="396.76" width="6" height="6" fill="none" stroke="#000000" stroke-width="1.25"/><path d="M617.2 399.76H627.2" stroke="#000000" stroke-width="1.8"/><rect x="619.2" y="396.76" width="6" height="6" fill="none" stroke="#000000" stroke-width="1.25"/><path d="M640.45 399.76H650.45" stroke="#000000" stroke-width="1.8"/><rect x="642.45" y="396.76" width="6" height="6" fill="none" stroke="#000000" stroke-width="1.25"/><path d="M663.7 399.76H673.7" stroke="#000000" stroke-width="1.8"/><rect x="665.7" y="396.76" width="6" height="6" fill="none" stroke="#000000" stroke-width="1.25"/><path d="M431.2 119.08H441.2" stroke="#708090" stroke-width="1.8"/><circle cx="436.2" cy="119.08" r="3" fill="none" stroke="#708090" stroke-width="1.25"/><path d="M454.45 230.9H464.45" stroke="#708090" stroke-width="1.8"/><circle cx="459.45" cy="230.9" r="3" fill="none" stroke="#708090" stroke-width="1.25"/><path d="M477.7 348.15H487.7" stroke="#708090" stroke-width="1.8"/><circle cx="482.7" cy="348.15" r="3" fill="none" stroke="#708090" stroke-width="1.25"/><path d="M500.95 387.34H510.95" stroke="#708090" stroke-width="1.8"/><circle cx="505.95" cy="387.34" r="3" fill="none" stroke="#708090" stroke-width="1.25"/><path d="M524.2 397.21H534.2" stroke="#708090" stroke-width="1.8"/><circle cx="529.2" cy="397.21" r="3" fill="none" stroke="#708090" stroke-width="1.25"/><path d="M547.45 399.76H557.45" stroke="#708090" stroke-width="1.8"/><circle cx="552.45" cy="399.76" r="3" fill="none" stroke="#708090" stroke-width="1.25"/><path d="M570.7 399.76H580.7" stroke="#708090" stroke-width="1.8"/><circle cx="575.7" cy="399.76" r="3" fill="none" stroke="#708090" stroke-width="1.25"/><path d="M593.95 399.76H603.95" stroke="#708090" stroke-width="1.8"/><circle cx="598.95" cy="399.76" r="3" fill="none" stroke="#708090" stroke-width="1.25"/><path d="M617.2 399.76H627.2" stroke="#708090" stroke-width="1.8"/><circle cx="622.2" cy="399.76" r="3" fill="none" stroke="#708090" stroke-width="1.25"/><path d="M640.45 399.76H650.45" stroke="#708090" stroke-width="1.8"/><circle cx="645.45" cy="399.76" r="3" fill="none" stroke="#708090" stroke-width="1.25"/><path d="M663.7 399.76H673.7" stroke="#708090" stroke-width="1.8"/><circle cx="668.7" cy="399.76" r="3" fill="none" stroke="#708090" stroke-width="1.25"/><path d="M431.2 125.77H441.2" stroke="#9A1A26" stroke-width="1.8"/><path d="M436.2 121.1L440.24 128.1L432.16 128.1Z" fill="none" stroke="#9A1A26" stroke-width="1.25"/><path d="M454.45 242.06H464.45" stroke="#9A1A26" stroke-width="1.8"/><path d="M459.45 237.39L463.49 244.39L455.41 244.39Z" fill="none" stroke="#9A1A26" stroke-width="1.25"/><path d="M477.7 366.63H487.7" stroke="#9A1A26" stroke-width="1.8"/><path d="M482.7 361.96L486.74 368.96L478.66 368.96Z" fill="none" stroke="#9A1A26" stroke-width="1.25"/><path d="M500.95 397.21H510.95" stroke="#9A1A26" stroke-width="1.8"/><path d="M505.95 392.55L509.99 399.55L501.91 399.55Z" fill="none" stroke="#9A1A26" stroke-width="1.25"/><path d="M524.2 399.44H534.2" stroke="#9A1A26" stroke-width="1.8"/><path d="M529.2 394.78L533.24 401.78L525.16 401.78Z" fill="none" stroke="#9A1A26" stroke-width="1.25"/><path d="M547.45 399.76H557.45" stroke="#9A1A26" stroke-width="1.8"/><path d="M552.45 395.1L556.49 402.1L548.41 402.1Z" fill="none" stroke="#9A1A26" stroke-width="1.25"/><path d="M570.7 399.76H580.7" stroke="#9A1A26" stroke-width="1.8"/><path d="M575.7 395.1L579.74 402.1L571.66 402.1Z" fill="none" stroke="#9A1A26" stroke-width="1.25"/><path d="M593.95 399.76H603.95" stroke="#9A1A26" stroke-width="1.8"/><path d="M598.95 395.1L602.99 402.1L594.91 402.1Z" fill="none" stroke="#9A1A26" stroke-width="1.25"/><path d="M617.2 399.76H627.2" stroke="#9A1A26" stroke-width="1.8"/><path d="M622.2 395.1L626.24 402.1L618.16 402.1Z" fill="none" stroke="#9A1A26" stroke-width="1.25"/><path d="M640.45 399.76H650.45" stroke="#9A1A26" stroke-width="1.8"/><path d="M645.45 395.1L649.49 402.1L641.41 402.1Z" fill="none" stroke="#9A1A26" stroke-width="1.25"/><path d="M663.7 399.76H673.7" stroke="#9A1A26" stroke-width="1.8"/><path d="M668.7 395.1L672.74 402.1L664.66 402.1Z" fill="none" stroke="#9A1A26" stroke-width="1.25"/><path d="M431.2 98.05H441.2" stroke="#E8141C" stroke-width="3.0"/><path d="M431.96 98.05H440.44M436.2 93.81V102.29" stroke="#E8141C" stroke-width="1.25"/><path d="M454.45 161.77H464.45" stroke="#E8141C" stroke-width="3.0"/><path d="M455.21 161.77H463.69M459.45 157.53V166.01" stroke="#E8141C" stroke-width="1.25"/><path d="M477.7 274.55H487.7" stroke="#E8141C" stroke-width="3.0"/><path d="M478.46 274.55H486.94M482.7 270.31V278.8" stroke="#E8141C" stroke-width="1.25"/><path d="M500.95 365.67H510.95" stroke="#E8141C" stroke-width="3.0"/><path d="M501.71 365.67H510.19M505.95 361.43V369.92" stroke="#E8141C" stroke-width="1.25"/><path d="M524.2 392.75H534.2" stroke="#E8141C" stroke-width="3.0"/><path d="M524.96 392.75H533.44M529.2 388.51V397" stroke="#E8141C" stroke-width="1.25"/><path d="M547.45 399.13H557.45" stroke="#E8141C" stroke-width="3.0"/><path d="M548.21 399.13H556.69M552.45 394.88V403.37" stroke="#E8141C" stroke-width="1.25"/><path d="M570.7 399.76H580.7" stroke="#E8141C" stroke-width="3.0"/><path d="M571.46 399.76H579.94M575.7 395.52V404.01" stroke="#E8141C" stroke-width="1.25"/><path d="M593.95 399.76H603.95" stroke="#E8141C" stroke-width="3.0"/><path d="M594.71 399.76H603.19M598.95 395.52V404.01" stroke="#E8141C" stroke-width="1.25"/><path d="M617.2 399.76H627.2" stroke="#E8141C" stroke-width="3.0"/><path d="M617.96 399.76H626.44M622.2 395.52V404.01" stroke="#E8141C" stroke-width="1.25"/><path d="M640.45 399.76H650.45" stroke="#E8141C" stroke-width="3.0"/><path d="M641.21 399.76H649.69M645.45 395.52V404.01" stroke="#E8141C" stroke-width="1.25"/><path d="M663.7 399.76H673.7" stroke="#E8141C" stroke-width="3.0"/><path d="M664.46 399.76H672.94M668.7 395.52V404.01" stroke="#E8141C" stroke-width="1.25"/><path d="M431.2 105.38H441.2" stroke="#F0A21E" stroke-width="1.8"/><path d="M433.2 102.38L439.2 108.38M433.2 108.38L439.2 102.38" stroke="#F0A21E" stroke-width="1.25"/><path d="M454.45 200.96H464.45" stroke="#F0A21E" stroke-width="1.8"/><path d="M456.45 197.96L462.45 203.96M456.45 203.96L462.45 197.96" stroke="#F0A21E" stroke-width="1.25"/><path d="M477.7 318.84H487.7" stroke="#F0A21E" stroke-width="1.8"/><path d="M479.7 315.84L485.7 321.84M479.7 321.84L485.7 315.84" stroke="#F0A21E" stroke-width="1.25"/><path d="M500.95 381.92H510.95" stroke="#F0A21E" stroke-width="1.8"/><path d="M502.95 378.92L508.95 384.92M502.95 384.92L508.95 378.92" stroke="#F0A21E" stroke-width="1.25"/><path d="M524.2 395.62H534.2" stroke="#F0A21E" stroke-width="1.8"/><path d="M526.2 392.62L532.2 398.62M526.2 398.62L532.2 392.62" stroke="#F0A21E" stroke-width="1.25"/><path d="M547.45 399.13H557.45" stroke="#F0A21E" stroke-width="1.8"/><path d="M549.45 396.13L555.45 402.13M549.45 402.13L555.45 396.13" stroke="#F0A21E" stroke-width="1.25"/><path d="M570.7 399.76H580.7" stroke="#F0A21E" stroke-width="1.8"/><path d="M572.7 396.76L578.7 402.76M572.7 402.76L578.7 396.76" stroke="#F0A21E" stroke-width="1.25"/><path d="M593.95 399.76H603.95" stroke="#F0A21E" stroke-width="1.8"/><path d="M595.95 396.76L601.95 402.76M595.95 402.76L601.95 396.76" stroke="#F0A21E" stroke-width="1.25"/><path d="M617.2 399.76H627.2" stroke="#F0A21E" stroke-width="1.8"/><path d="M619.2 396.76L625.2 402.76M619.2 402.76L625.2 396.76" stroke="#F0A21E" stroke-width="1.25"/><path d="M640.45 399.76H650.45" stroke="#F0A21E" stroke-width="1.8"/><path d="M642.45 396.76L648.45 402.76M642.45 402.76L648.45 396.76" stroke="#F0A21E" stroke-width="1.25"/><path d="M663.7 399.76H673.7" stroke="#F0A21E" stroke-width="1.8"/><path d="M665.7 396.76L671.7 402.76M665.7 402.76L671.7 396.76" stroke="#F0A21E" stroke-width="1.25"/><path d="M431.2 98.37H441.2" stroke="#1ECC1E" stroke-width="1.8"/><path d="M436.2 94.12L440.44 98.37L436.2 102.61L431.96 98.37Z" fill="none" stroke="#1ECC1E" stroke-width="1.25"/><path d="M454.45 163.04H464.45" stroke="#1ECC1E" stroke-width="1.8"/><path d="M459.45 158.8L463.69 163.04L459.45 167.29L455.21 163.04Z" fill="none" stroke="#1ECC1E" stroke-width="1.25"/><path d="M477.7 391.8H487.7" stroke="#1ECC1E" stroke-width="1.8"/><path d="M482.7 387.56L486.94 391.8L482.7 396.04L478.46 391.8Z" fill="none" stroke="#1ECC1E" stroke-width="1.25"/><path d="M500.95 398.81H510.95" stroke="#1ECC1E" stroke-width="1.8"/><path d="M505.95 394.56L510.19 398.81L505.95 403.05L501.71 398.81Z" fill="none" stroke="#1ECC1E" stroke-width="1.25"/><path d="M524.2 399.76H534.2" stroke="#1ECC1E" stroke-width="1.8"/><path d="M529.2 395.52L533.44 399.76L529.2 404.01L524.96 399.76Z" fill="none" stroke="#1ECC1E" stroke-width="1.25"/><path d="M547.45 399.76H557.45" stroke="#1ECC1E" stroke-width="1.8"/><path d="M552.45 395.52L556.69 399.76L552.45 404.01L548.21 399.76Z" fill="none" stroke="#1ECC1E" stroke-width="1.25"/><path d="M570.7 399.76H580.7" stroke="#1ECC1E" stroke-width="1.8"/><path d="M575.7 395.52L579.94 399.76L575.7 404.01L571.46 399.76Z" fill="none" stroke="#1ECC1E" stroke-width="1.25"/><path d="M593.95 399.76H603.95" stroke="#1ECC1E" stroke-width="1.8"/><path d="M598.95 395.52L603.19 399.76L598.95 404.01L594.71 399.76Z" fill="none" stroke="#1ECC1E" stroke-width="1.25"/><path d="M617.2 399.76H627.2" stroke="#1ECC1E" stroke-width="1.8"/><path d="M622.2 395.52L626.44 399.76L622.2 404.01L617.96 399.76Z" fill="none" stroke="#1ECC1E" stroke-width="1.25"/><path d="M640.45 399.76H650.45" stroke="#1ECC1E" stroke-width="1.8"/><path d="M645.45 395.52L649.69 399.76L645.45 404.01L641.21 399.76Z" fill="none" stroke="#1ECC1E" stroke-width="1.25"/><path d="M663.7 399.76H673.7" stroke="#1ECC1E" stroke-width="1.8"/><path d="M668.7 395.52L672.94 399.76L668.7 404.01L664.46 399.76Z" fill="none" stroke="#1ECC1E" stroke-width="1.25"/><path d="M431.2 99H441.2" stroke="#128C12" stroke-width="1.8"/><path d="M436.2 103.67L440.24 96.67L432.16 96.67Z" fill="none" stroke="#128C12" stroke-width="1.25"/><path d="M454.45 165.27H464.45" stroke="#128C12" stroke-width="1.8"/><path d="M459.45 169.94L463.49 162.94L455.41 162.94Z" fill="none" stroke="#128C12" stroke-width="1.25"/><path d="M477.7 391.8H487.7" stroke="#128C12" stroke-width="1.8"/><path d="M482.7 396.46L486.74 389.46L478.66 389.46Z" fill="none" stroke="#128C12" stroke-width="1.25"/><path d="M500.95 398.81H510.95" stroke="#128C12" stroke-width="1.8"/><path d="M505.95 403.47L509.99 396.47L501.91 396.47Z" fill="none" stroke="#128C12" stroke-width="1.25"/><path d="M524.2 399.76H534.2" stroke="#128C12" stroke-width="1.8"/><path d="M529.2 404.43L533.24 397.43L525.16 397.43Z" fill="none" stroke="#128C12" stroke-width="1.25"/><path d="M547.45 399.76H557.45" stroke="#128C12" stroke-width="1.8"/><path d="M552.45 404.43L556.49 397.43L548.41 397.43Z" fill="none" stroke="#128C12" stroke-width="1.25"/><path d="M570.7 399.76H580.7" stroke="#128C12" stroke-width="1.8"/><path d="M575.7 404.43L579.74 397.43L571.66 397.43Z" fill="none" stroke="#128C12" stroke-width="1.25"/><path d="M593.95 399.76H603.95" stroke="#128C12" stroke-width="1.8"/><path d="M598.95 404.43L602.99 397.43L594.91 397.43Z" fill="none" stroke="#128C12" stroke-width="1.25"/><path d="M617.2 399.76H627.2" stroke="#128C12" stroke-width="1.8"/><path d="M622.2 404.43L626.24 397.43L618.16 397.43Z" fill="none" stroke="#128C12" stroke-width="1.25"/><path d="M640.45 399.76H650.45" stroke="#128C12" stroke-width="1.8"/><path d="M645.45 404.43L649.49 397.43L641.41 397.43Z" fill="none" stroke="#128C12" stroke-width="1.25"/><path d="M663.7 399.76H673.7" stroke="#128C12" stroke-width="1.8"/><path d="M668.7 404.43L672.74 397.43L664.66 397.43Z" fill="none" stroke="#128C12" stroke-width="1.25"/><path d="M431.2 329.67H441.2" stroke="#8CCDEA" stroke-width="1.8"/><rect x="433.2" y="326.67" width="6" height="6" fill="none" stroke="#8CCDEA" stroke-width="1.25"/><path d="M433.2 326.67L439.2 332.67M433.2 332.67L439.2 326.67" stroke="#8CCDEA" stroke-width="1.0"/><path d="M454.45 397.21H464.45" stroke="#8CCDEA" stroke-width="1.8"/><rect x="456.45" y="394.21" width="6" height="6" fill="none" stroke="#8CCDEA" stroke-width="1.25"/><path d="M456.45 394.21L462.45 400.21M456.45 400.21L462.45 394.21" stroke="#8CCDEA" stroke-width="1.0"/><path d="M477.7 398.81H487.7" stroke="#8CCDEA" stroke-width="1.8"/><rect x="479.7" y="395.81" width="6" height="6" fill="none" stroke="#8CCDEA" stroke-width="1.25"/><path d="M479.7 395.81L485.7 401.81M479.7 401.81L485.7 395.81" stroke="#8CCDEA" stroke-width="1.0"/><path d="M500.95 399.44H510.95" stroke="#8CCDEA" stroke-width="1.8"/><rect x="502.95" y="396.44" width="6" height="6" fill="none" stroke="#8CCDEA" stroke-width="1.25"/><path d="M502.95 396.44L508.95 402.44M502.95 402.44L508.95 396.44" stroke="#8CCDEA" stroke-width="1.0"/><path d="M524.2 399.76H534.2" stroke="#8CCDEA" stroke-width="1.8"/><rect x="526.2" y="396.76" width="6" height="6" fill="none" stroke="#8CCDEA" stroke-width="1.25"/><path d="M526.2 396.76L532.2 402.76M526.2 402.76L532.2 396.76" stroke="#8CCDEA" stroke-width="1.0"/><path d="M547.45 399.76H557.45" stroke="#8CCDEA" stroke-width="1.8"/><rect x="549.45" y="396.76" width="6" height="6" fill="none" stroke="#8CCDEA" stroke-width="1.25"/><path d="M549.45 396.76L555.45 402.76M549.45 402.76L555.45 396.76" stroke="#8CCDEA" stroke-width="1.0"/><path d="M570.7 399.76H580.7" stroke="#8CCDEA" stroke-width="1.8"/><rect x="572.7" y="396.76" width="6" height="6" fill="none" stroke="#8CCDEA" stroke-width="1.25"/><path d="M572.7 396.76L578.7 402.76M572.7 402.76L578.7 396.76" stroke="#8CCDEA" stroke-width="1.0"/><path d="M593.95 399.76H603.95" stroke="#8CCDEA" stroke-width="1.8"/><rect x="595.95" y="396.76" width="6" height="6" fill="none" stroke="#8CCDEA" stroke-width="1.25"/><path d="M595.95 396.76L601.95 402.76M595.95 402.76L601.95 396.76" stroke="#8CCDEA" stroke-width="1.0"/><path d="M617.2 399.76H627.2" stroke="#8CCDEA" stroke-width="1.8"/><rect x="619.2" y="396.76" width="6" height="6" fill="none" stroke="#8CCDEA" stroke-width="1.25"/><path d="M619.2 396.76L625.2 402.76M619.2 402.76L625.2 396.76" stroke="#8CCDEA" stroke-width="1.0"/><path d="M640.45 399.76H650.45" stroke="#8CCDEA" stroke-width="1.8"/><rect x="642.45" y="396.76" width="6" height="6" fill="none" stroke="#8CCDEA" stroke-width="1.25"/><path d="M642.45 396.76L648.45 402.76M642.45 402.76L648.45 396.76" stroke="#8CCDEA" stroke-width="1.0"/><path d="M663.7 399.76H673.7" stroke="#8CCDEA" stroke-width="1.8"/><rect x="665.7" y="396.76" width="6" height="6" fill="none" stroke="#8CCDEA" stroke-width="1.25"/><path d="M665.7 396.76L671.7 402.76M665.7 402.76L671.7 396.76" stroke="#8CCDEA" stroke-width="1.0"/><path d="M431.2 272.32H441.2" stroke="#1010D0" stroke-width="1.8"/><path d="M431.96 272.32H440.44M436.2 268.08V276.57M433.2 269.32L439.2 275.32M433.2 275.32L439.2 269.32" stroke="#1010D0" stroke-width="1.5625"/><path d="M454.45 339.55H464.45" stroke="#1010D0" stroke-width="1.8"/><path d="M455.21 339.55H463.69M459.45 335.3V343.79M456.45 336.55L462.45 342.55M456.45 342.55L462.45 336.55" stroke="#1010D0" stroke-width="1.5625"/><path d="M477.7 394.98H487.7" stroke="#1010D0" stroke-width="1.8"/><path d="M478.46 394.98H486.94M482.7 390.74V399.23M479.7 391.98L485.7 397.98M479.7 397.98L485.7 391.98" stroke="#1010D0" stroke-width="1.5625"/><path d="M500.95 399.13H510.95" stroke="#1010D0" stroke-width="1.8"/><path d="M501.71 399.13H510.19M505.95 394.88V403.37M502.95 396.13L508.95 402.13M502.95 402.13L508.95 396.13" stroke="#1010D0" stroke-width="1.5625"/><path d="M524.2 399.76H534.2" stroke="#1010D0" stroke-width="1.8"/><path d="M524.96 399.76H533.44M529.2 395.52V404.01M526.2 396.76L532.2 402.76M526.2 402.76L532.2 396.76" stroke="#1010D0" stroke-width="1.5625"/><path d="M547.45 399.76H557.45" stroke="#1010D0" stroke-width="1.8"/><path d="M548.21 399.76H556.69M552.45 395.52V404.01M549.45 396.76L555.45 402.76M549.45 402.76L555.45 396.76" stroke="#1010D0" stroke-width="1.5625"/><path d="M570.7 399.76H580.7" stroke="#1010D0" stroke-width="1.8"/><path d="M571.46 399.76H579.94M575.7 395.52V404.01M572.7 396.76L578.7 402.76M572.7 402.76L578.7 396.76" stroke="#1010D0" stroke-width="1.5625"/><path d="M593.95 399.76H603.95" stroke="#1010D0" stroke-width="1.8"/><path d="M594.71 399.76H603.19M598.95 395.52V404.01M595.95 396.76L601.95 402.76M595.95 402.76L601.95 396.76" stroke="#1010D0" stroke-width="1.5625"/><path d="M617.2 399.76H627.2" stroke="#1010D0" stroke-width="1.8"/><path d="M617.96 399.76H626.44M622.2 395.52V404.01M619.2 396.76L625.2 402.76M619.2 402.76L625.2 396.76" stroke="#1010D0" stroke-width="1.5625"/><path d="M640.45 399.76H650.45" stroke="#1010D0" stroke-width="1.8"/><path d="M641.21 399.76H649.69M645.45 395.52V404.01M642.45 396.76L648.45 402.76M642.45 402.76L648.45 396.76" stroke="#1010D0" stroke-width="1.5625"/><path d="M663.7 399.76H673.7" stroke="#1010D0" stroke-width="1.8"/><path d="M664.46 399.76H672.94M668.7 395.52V404.01M665.7 396.76L671.7 402.76M665.7 402.76L671.7 396.76" stroke="#1010D0" stroke-width="1.5625"/><path d="M431.2 153.8H441.2" stroke="#8A3CE0" stroke-width="1.8"/><path d="M436.2 149.56L440.44 153.8L436.2 158.05L431.96 153.8ZM431.96 153.8H440.44M436.2 149.56V158.05" fill="none" stroke="#8A3CE0" stroke-width="1.25"/><path d="M454.45 270.73H464.45" stroke="#8A3CE0" stroke-width="1.8"/><path d="M459.45 266.49L463.69 270.73L459.45 274.97L455.21 270.73ZM455.21 270.73H463.69M459.45 266.49V274.97" fill="none" stroke="#8A3CE0" stroke-width="1.25"/><path d="M477.7 374.27H487.7" stroke="#8A3CE0" stroke-width="1.8"/><path d="M482.7 370.03L486.94 374.27L482.7 378.52L478.46 374.27ZM478.46 374.27H486.94M482.7 370.03V378.52" fill="none" stroke="#8A3CE0" stroke-width="1.25"/><path d="M500.95 398.81H510.95" stroke="#8A3CE0" stroke-width="1.8"/><path d="M505.95 394.56L510.19 398.81L505.95 403.05L501.71 398.81ZM501.71 398.81H510.19M505.95 394.56V403.05" fill="none" stroke="#8A3CE0" stroke-width="1.25"/><path d="M524.2 399.76H534.2" stroke="#8A3CE0" stroke-width="1.8"/><path d="M529.2 395.52L533.44 399.76L529.2 404.01L524.96 399.76ZM524.96 399.76H533.44M529.2 395.52V404.01" fill="none" stroke="#8A3CE0" stroke-width="1.25"/><path d="M547.45 399.76H557.45" stroke="#8A3CE0" stroke-width="1.8"/><path d="M552.45 395.52L556.69 399.76L552.45 404.01L548.21 399.76ZM548.21 399.76H556.69M552.45 395.52V404.01" fill="none" stroke="#8A3CE0" stroke-width="1.25"/><path d="M570.7 399.76H580.7" stroke="#8A3CE0" stroke-width="1.8"/><path d="M575.7 395.52L579.94 399.76L575.7 404.01L571.46 399.76ZM571.46 399.76H579.94M575.7 395.52V404.01" fill="none" stroke="#8A3CE0" stroke-width="1.25"/><path d="M593.95 399.76H603.95" stroke="#8A3CE0" stroke-width="1.8"/><path d="M598.95 395.52L603.19 399.76L598.95 404.01L594.71 399.76ZM594.71 399.76H603.19M598.95 395.52V404.01" fill="none" stroke="#8A3CE0" stroke-width="1.25"/><path d="M617.2 399.76H627.2" stroke="#8A3CE0" stroke-width="1.8"/><path d="M622.2 395.52L626.44 399.76L622.2 404.01L617.96 399.76ZM617.96 399.76H626.44M622.2 395.52V404.01" fill="none" stroke="#8A3CE0" stroke-width="1.25"/><path d="M640.45 399.76H650.45" stroke="#8A3CE0" stroke-width="1.8"/><path d="M645.45 395.52L649.69 399.76L645.45 404.01L641.21 399.76ZM641.21 399.76H649.69M645.45 395.52V404.01" fill="none" stroke="#8A3CE0" stroke-width="1.25"/><path d="M663.7 399.76H673.7" stroke="#8A3CE0" stroke-width="1.8"/><path d="M668.7 395.52L672.94 399.76L668.7 404.01L664.46 399.76ZM664.46 399.76H672.94M668.7 395.52V404.01" fill="none" stroke="#8A3CE0" stroke-width="1.25"/><path d="M431.2 109.2H441.2" stroke="#DC70A0" stroke-width="1.8"/><circle cx="436.2" cy="109.2" r="3" fill="#DC70A0" fill-opacity="0.4" stroke="#DC70A0" stroke-width="1.25"/><path d="M433.2 109.2H439.2M436.2 106.2V112.2" stroke="#DC70A0" stroke-width="1.0"/><path d="M454.45 305.78H464.45" stroke="#DC70A0" stroke-width="1.8"/><circle cx="459.45" cy="305.78" r="3" fill="#DC70A0" fill-opacity="0.4" stroke="#DC70A0" stroke-width="1.25"/><path d="M456.45 305.78H462.45M459.45 302.78V308.78" stroke="#DC70A0" stroke-width="1.0"/><path d="M477.7 366.63H487.7" stroke="#DC70A0" stroke-width="1.8"/><circle cx="482.7" cy="366.63" r="3" fill="#DC70A0" fill-opacity="0.4" stroke="#DC70A0" stroke-width="1.25"/><path d="M479.7 366.63H485.7M482.7 363.63V369.63" stroke="#DC70A0" stroke-width="1.0"/><path d="M500.95 398.81H510.95" stroke="#DC70A0" stroke-width="1.8"/><circle cx="505.95" cy="398.81" r="3" fill="#DC70A0" fill-opacity="0.4" stroke="#DC70A0" stroke-width="1.25"/><path d="M502.95 398.81H508.95M505.95 395.81V401.81" stroke="#DC70A0" stroke-width="1.0"/><path d="M524.2 399.76H534.2" stroke="#DC70A0" stroke-width="1.8"/><circle cx="529.2" cy="399.76" r="3" fill="#DC70A0" fill-opacity="0.4" stroke="#DC70A0" stroke-width="1.25"/><path d="M526.2 399.76H532.2M529.2 396.76V402.76" stroke="#DC70A0" stroke-width="1.0"/><path d="M547.45 399.76H557.45" stroke="#DC70A0" stroke-width="1.8"/><circle cx="552.45" cy="399.76" r="3" fill="#DC70A0" fill-opacity="0.4" stroke="#DC70A0" stroke-width="1.25"/><path d="M549.45 399.76H555.45M552.45 396.76V402.76" stroke="#DC70A0" stroke-width="1.0"/><path d="M570.7 399.76H580.7" stroke="#DC70A0" stroke-width="1.8"/><circle cx="575.7" cy="399.76" r="3" fill="#DC70A0" fill-opacity="0.4" stroke="#DC70A0" stroke-width="1.25"/><path d="M572.7 399.76H578.7M575.7 396.76V402.76" stroke="#DC70A0" stroke-width="1.0"/><path d="M593.95 399.76H603.95" stroke="#DC70A0" stroke-width="1.8"/><circle cx="598.95" cy="399.76" r="3" fill="#DC70A0" fill-opacity="0.4" stroke="#DC70A0" stroke-width="1.25"/><path d="M595.95 399.76H601.95M598.95 396.76V402.76" stroke="#DC70A0" stroke-width="1.0"/><path d="M617.2 399.76H627.2" stroke="#DC70A0" stroke-width="1.8"/><circle cx="622.2" cy="399.76" r="3" fill="#DC70A0" fill-opacity="0.4" stroke="#DC70A0" stroke-width="1.25"/><path d="M619.2 399.76H625.2M622.2 396.76V402.76" stroke="#DC70A0" stroke-width="1.0"/><path d="M640.45 399.76H650.45" stroke="#DC70A0" stroke-width="1.8"/><circle cx="645.45" cy="399.76" r="3" fill="#DC70A0" fill-opacity="0.4" stroke="#DC70A0" stroke-width="1.25"/><path d="M642.45 399.76H648.45M645.45 396.76V402.76" stroke="#DC70A0" stroke-width="1.0"/><path d="M663.7 399.76H673.7" stroke="#DC70A0" stroke-width="1.8"/><circle cx="668.7" cy="399.76" r="3" fill="#DC70A0" fill-opacity="0.4" stroke="#DC70A0" stroke-width="1.25"/><path d="M665.7 399.76H671.7M668.7 396.76V402.76" stroke="#DC70A0" stroke-width="1.0"/><circle cx="505.95" cy="399.44" r="3.5" fill="#AE5ACC" stroke="#703494" stroke-width="0.9"/><path d="M505.95 394.24V395.84M505.95 403.04V404.64" stroke="#6A2E8E" stroke-width="1"/><circle cx="529.2" cy="399.44" r="3.5" fill="#AE5ACC" stroke="#703494" stroke-width="0.9"/><path d="M529.2 394.24V395.84M529.2 403.04V404.64" stroke="#6A2E8E" stroke-width="1"/><circle cx="552.45" cy="399.44" r="3.5" fill="#AE5ACC" stroke="#703494" stroke-width="0.9"/><path d="M552.45 394.24V395.84M552.45 403.04V404.64" stroke="#6A2E8E" stroke-width="1"/><circle cx="575.7" cy="399.44" r="3.5" fill="#AE5ACC" stroke="#703494" stroke-width="0.9"/><path d="M575.7 394.24V395.84M575.7 403.04V404.64" stroke="#6A2E8E" stroke-width="1"/><circle cx="598.95" cy="399.44" r="3.5" fill="#AE5ACC" stroke="#703494" stroke-width="0.9"/><path d="M598.95 394.24V395.84M598.95 403.04V404.64" stroke="#6A2E8E" stroke-width="1"/><circle cx="622.2" cy="399.44" r="3.5" fill="#AE5ACC" stroke="#703494" stroke-width="0.9"/><path d="M622.2 394.24V395.84M622.2 403.04V404.64" stroke="#6A2E8E" stroke-width="1"/><circle cx="645.45" cy="399.44" r="3.5" fill="#AE5ACC" stroke="#703494" stroke-width="0.9"/><path d="M645.45 394.24V395.84M645.45 403.04V404.64" stroke="#6A2E8E" stroke-width="1"/><circle cx="668.7" cy="399.44" r="3.5" fill="#AE5ACC" stroke="#703494" stroke-width="0.9"/><path d="M668.7 394.24V395.84M668.7 403.04V404.64" stroke="#6A2E8E" stroke-width="1"/><rect x="426.6" y="69.7" width="251" height="343.7" fill="none" stroke="#000" stroke-width="1.5"/><path d="M435.6 413.4V421.7M458.85 413.4V421.7M482.1 413.4V421.7M505.35 413.4V421.7M528.6 413.4V421.7M551.85 413.4V421.7M575.1 413.4V421.7M598.35 413.4V421.7M621.6 413.4V421.7M644.85 413.4V421.7M668.1 413.4V421.7M426.6 400.4H418.3M426.6 336.68H418.3M426.6 272.96H418.3M426.6 209.24H418.3M426.6 145.52H418.3M426.6 81.8H418.3" stroke="#000" stroke-width="1.5" fill="none"/><text x="435.6" y="442" font-size="10.3" letter-spacing="-0.2" text-anchor="middle">.25</text><text x="458.85" y="442" font-size="10.3" letter-spacing="-0.2" text-anchor="middle">.50</text><text x="482.1" y="442" font-size="10.3" letter-spacing="-0.2" text-anchor="middle">.75</text><text x="505.35" y="442" font-size="10.3" letter-spacing="-0.2" text-anchor="middle">1.00</text><text x="528.6" y="442" font-size="10.3" letter-spacing="-0.2" text-anchor="middle">1.25</text><text x="551.85" y="442" font-size="10.3" letter-spacing="-0.2" text-anchor="middle">1.50</text><text x="575.1" y="442" font-size="10.3" letter-spacing="-0.2" text-anchor="middle">1.75</text><text x="598.35" y="442" font-size="10.3" letter-spacing="-0.2" text-anchor="middle">2.00</text><text x="621.6" y="442" font-size="10.3" letter-spacing="-0.2" text-anchor="middle">3.00</text><text x="644.85" y="442" font-size="10.3" letter-spacing="-0.2" text-anchor="middle">4.00</text><text x="668.1" y="442" font-size="10.3" letter-spacing="-0.2" text-anchor="middle">5.00</text><text transform="translate(408 399.8) rotate(-90)" font-size="11.2" text-anchor="middle">0.0</text><text transform="translate(408 336.08) rotate(-90)" font-size="11.2" text-anchor="middle">0.2</text><text transform="translate(408 272.36) rotate(-90)" font-size="11.2" text-anchor="middle">0.4</text><text transform="translate(408 208.64) rotate(-90)" font-size="11.2" text-anchor="middle">0.6</text><text transform="translate(408 144.92) rotate(-90)" font-size="11.2" text-anchor="middle">0.8</text><text transform="translate(408 81.2) rotate(-90)" font-size="11.2" text-anchor="middle">1.0</text><text x="424.6" y="64.2" font-size="18">B</text><path d="M142.37 490.19L155.09 502.72M163.86 514.44L180.12 544.7M186.68 557.96L203.82 595.74M210.42 608.98L226.6 638.65M234.59 651.06L248.95 670.12M259 680.86L271.06 691.26M283.08 699.78L293.5 705.78M304.04 715.61L319.06 738.02M328.2 749.6L341.42 763.89M352.51 773.56L363.63 781.33" fill="none" stroke="#000000" stroke-width="1.3"/><path d="M144.5 484.46L152.96 484.57M167.68 485.78L176.3 487.07M190.29 491.37L200.21 496.12M212.04 504.62L224.98 517.9M234.39 529.26L249.15 550.26M257.63 562.39L272.43 583.67M281.42 595.41L295.16 611.78M302.86 624.24L320.24 664.46M328.94 675.91L340.68 685.39M353.15 693.16L362.99 697.74" fill="none" stroke="#708090" stroke-width="1.3"/><path d="M144.5 484.04L152.96 484.04M167.74 484.54L176.24 485.12M190.56 488.19L199.94 491.66M213.91 496.54L223.11 499.56M237.41 503.26L246.13 504.93M260.63 507.91L269.43 509.84M283.96 512.62L292.62 514.04M305.52 520.07L317.58 530.47M327.72 541.14L341.9 559.39M349.9 571.77L366.24 602.63" fill="none" stroke="#9A1A26" stroke-width="1.3"/><path d="M144.49 484.34L152.97 484.69M166.85 488.55L177.13 494.17M187.35 504.12L203.15 531.14M209.52 544.44L227.5 591.43M232.53 605.35L251.01 659.48M256.2 673.33L273.86 716.62M280.94 729.51L295.64 750.23M304.26 762.26L318.84 782.43M330.34 790.29L339.28 792.61M353.83 794.88L362.31 795.35" fill="none" stroke="#1ECC1E" stroke-width="1.3"/><path d="M144.49 484.34L152.97 484.69M166.78 488.68L177.2 494.68M187.29 504.79L203.21 532.69M209.26 546.13L227.76 600.57M232.28 614.66L251.26 677.54M256.35 691.41L273.71 731.33M281.29 743.89L295.29 761.32M305.12 772.36L317.98 785.39M330.43 792.14L339.19 793.94M353.82 795.94L362.32 796.52" fill="none" stroke="#128C12" stroke-width="1.3"/><path d="M138.54 623.43L158.92 726.4M165.42 739.06L178.56 753.1M190.53 761.15L199.97 764.76M214.04 769.28L222.98 771.6M237.33 775.23L246.21 777.42M260.67 780.59L269.39 782.26M283.98 784.75L292.6 786.05M306.73 790.04L316.37 794.13M330.52 797.93L339.1 798.98M353.83 800.19L362.31 800.54" fill="none" stroke="#8CCDEA" stroke-width="1.3"/><path d="M144.39 486.93L153.07 488.47M166.51 493.89L177.47 501.25M185.49 512.53L205.01 587.04M208.71 601.37L228.31 678.1M234.16 691.48L249.38 715.03M259.43 725.54L270.63 733.51M283.8 739.76L292.78 742.22M305.68 748.82L317.42 758.31M329.74 766.37L339.88 771.64M353.18 778.1L362.96 782.52" fill="none" stroke="#1010D0" stroke-width="1.3"/><path d="M139.95 528.76L157.51 570.82M162.65 584.68L181.33 641.93M186.66 655.71L203.84 693.8M212.22 705.67L224.8 717.72M236.81 726.03L246.73 730.78M260.7 735.18L269.36 736.6M283.8 739.76L292.78 742.22M306.7 747.14L316.4 751.39M329.99 757.25L339.63 761.34M353.22 767.2L362.92 771.45" fill="none" stroke="#8A3CE0" stroke-width="1.3"/><path d="M144.49 485.93L152.97 486.28M167.69 487.59L176.29 488.76M190.11 493.32L200.39 498.95M212.04 507.8L224.98 521.08M234.37 532.46L249.17 553.74M257.39 566.05L272.67 589.88M281.03 602.09L295.55 621.98M301.94 635.07L321.16 702.66M326.85 716.21L342.77 744.11M352.62 754.6L363.52 761.76" fill="none" stroke="#DC70A0" stroke-width="1.3"/><path d="M144.5 484.14L152.96 484.25M167.75 484.76L176.23 485.22M190.91 486.93L199.59 488.47M211.9 495.2L225.12 509.49M233.51 521.51L250.03 553.86M256.8 567.02L273.26 598.78M280.97 611.36L295.61 631.81M302.81 644.64L320.29 685.78M329.05 697.09L340.57 705.92M353.18 713.47L362.96 717.88" fill="none" stroke="#E8141C" stroke-width="1.3"/><path d="M141.14 495.33L156.32 518.59M162.81 531.77L181.17 584.04M186.33 597.91L204.17 643.35M210.97 656.41L226.05 679.1M235.63 690.23L247.91 701.32M260.18 709.25L269.88 713.5M283.75 718.6L292.83 721.34M306.14 727.48L316.96 734.43M329.71 741.92L339.91 747.37M353.35 753.5L362.79 757.12" fill="none" stroke="#F0A21E" stroke-width="1.3"/><path d="M132.1 484.99H142.1" stroke="#000000" stroke-width="1.8"/><rect x="134.1" y="481.99" width="6" height="6" fill="none" stroke="#000000" stroke-width="1.25"/><path d="M155.36 507.92H165.36" stroke="#000000" stroke-width="1.8"/><rect x="157.36" y="504.92" width="6" height="6" fill="none" stroke="#000000" stroke-width="1.25"/><path d="M178.62 551.22H188.62" stroke="#000000" stroke-width="1.8"/><rect x="180.62" y="548.22" width="6" height="6" fill="none" stroke="#000000" stroke-width="1.25"/><path d="M201.88 602.48H211.88" stroke="#000000" stroke-width="1.8"/><rect x="203.88" y="599.48" width="6" height="6" fill="none" stroke="#000000" stroke-width="1.25"/><path d="M225.14 645.15H235.14" stroke="#000000" stroke-width="1.8"/><rect x="227.14" y="642.15" width="6" height="6" fill="none" stroke="#000000" stroke-width="1.25"/><path d="M248.4 676.03H258.4" stroke="#000000" stroke-width="1.8"/><rect x="250.4" y="673.03" width="6" height="6" fill="none" stroke="#000000" stroke-width="1.25"/><path d="M271.66 696.09H281.66" stroke="#000000" stroke-width="1.8"/><rect x="273.66" y="693.09" width="6" height="6" fill="none" stroke="#000000" stroke-width="1.25"/><path d="M294.92 709.46H304.92" stroke="#000000" stroke-width="1.8"/><rect x="296.92" y="706.46" width="6" height="6" fill="none" stroke="#000000" stroke-width="1.25"/><path d="M318.18 744.17H328.18" stroke="#000000" stroke-width="1.8"/><rect x="320.18" y="741.17" width="6" height="6" fill="none" stroke="#000000" stroke-width="1.25"/><path d="M341.44 769.32H351.44" stroke="#000000" stroke-width="1.8"/><rect x="343.44" y="766.32" width="6" height="6" fill="none" stroke="#000000" stroke-width="1.25"/><path d="M364.7 785.56H374.7" stroke="#000000" stroke-width="1.8"/><rect x="366.7" y="782.56" width="6" height="6" fill="none" stroke="#000000" stroke-width="1.25"/><path d="M132.1 484.36H142.1" stroke="#708090" stroke-width="1.8"/><circle cx="137.1" cy="484.36" r="3" fill="none" stroke="#708090" stroke-width="1.25"/><path d="M155.36 484.67H165.36" stroke="#708090" stroke-width="1.8"/><circle cx="160.36" cy="484.67" r="3" fill="none" stroke="#708090" stroke-width="1.25"/><path d="M178.62 488.18H188.62" stroke="#708090" stroke-width="1.8"/><circle cx="183.62" cy="488.18" r="3" fill="none" stroke="#708090" stroke-width="1.25"/><path d="M201.88 499.32H211.88" stroke="#708090" stroke-width="1.8"/><circle cx="206.88" cy="499.32" r="3" fill="none" stroke="#708090" stroke-width="1.25"/><path d="M225.14 523.2H235.14" stroke="#708090" stroke-width="1.8"/><circle cx="230.14" cy="523.2" r="3" fill="none" stroke="#708090" stroke-width="1.25"/><path d="M248.4 556.31H258.4" stroke="#708090" stroke-width="1.8"/><circle cx="253.4" cy="556.31" r="3" fill="none" stroke="#708090" stroke-width="1.25"/><path d="M271.66 589.75H281.66" stroke="#708090" stroke-width="1.8"/><circle cx="276.66" cy="589.75" r="3" fill="none" stroke="#708090" stroke-width="1.25"/><path d="M294.92 617.45H304.92" stroke="#708090" stroke-width="1.8"/><circle cx="299.92" cy="617.45" r="3" fill="none" stroke="#708090" stroke-width="1.25"/><path d="M318.18 671.26H328.18" stroke="#708090" stroke-width="1.8"/><circle cx="323.18" cy="671.26" r="3" fill="none" stroke="#708090" stroke-width="1.25"/><path d="M341.44 690.04H351.44" stroke="#708090" stroke-width="1.8"/><circle cx="346.44" cy="690.04" r="3" fill="none" stroke="#708090" stroke-width="1.25"/><path d="M364.7 700.87H374.7" stroke="#708090" stroke-width="1.8"/><circle cx="369.7" cy="700.87" r="3" fill="none" stroke="#708090" stroke-width="1.25"/><path d="M132.1 484.04H142.1" stroke="#9A1A26" stroke-width="1.8"/><path d="M137.1 479.37L141.14 486.37L133.06 486.37Z" fill="none" stroke="#9A1A26" stroke-width="1.25"/><path d="M155.36 484.04H165.36" stroke="#9A1A26" stroke-width="1.8"/><path d="M160.36 479.37L164.4 486.37L156.32 486.37Z" fill="none" stroke="#9A1A26" stroke-width="1.25"/><path d="M178.62 485.63H188.62" stroke="#9A1A26" stroke-width="1.8"/><path d="M183.62 480.96L187.66 487.96L179.58 487.96Z" fill="none" stroke="#9A1A26" stroke-width="1.25"/><path d="M201.88 494.23H211.88" stroke="#9A1A26" stroke-width="1.8"/><path d="M206.88 489.56L210.92 496.56L202.84 496.56Z" fill="none" stroke="#9A1A26" stroke-width="1.25"/><path d="M225.14 501.87H235.14" stroke="#9A1A26" stroke-width="1.8"/><path d="M230.14 497.2L234.18 504.2L226.1 504.2Z" fill="none" stroke="#9A1A26" stroke-width="1.25"/><path d="M248.4 506.32H258.4" stroke="#9A1A26" stroke-width="1.8"/><path d="M253.4 501.66L257.44 508.66L249.36 508.66Z" fill="none" stroke="#9A1A26" stroke-width="1.25"/><path d="M271.66 511.42H281.66" stroke="#9A1A26" stroke-width="1.8"/><path d="M276.66 506.75L280.7 513.75L272.62 513.75Z" fill="none" stroke="#9A1A26" stroke-width="1.25"/><path d="M294.92 515.24H304.92" stroke="#9A1A26" stroke-width="1.8"/><path d="M299.92 510.57L303.96 517.57L295.88 517.57Z" fill="none" stroke="#9A1A26" stroke-width="1.25"/><path d="M318.18 535.3H328.18" stroke="#9A1A26" stroke-width="1.8"/><path d="M323.18 530.63L327.22 537.63L319.14 537.63Z" fill="none" stroke="#9A1A26" stroke-width="1.25"/><path d="M341.44 565.23H351.44" stroke="#9A1A26" stroke-width="1.8"/><path d="M346.44 560.56L350.48 567.56L342.4 567.56Z" fill="none" stroke="#9A1A26" stroke-width="1.25"/><path d="M364.7 609.17H374.7" stroke="#9A1A26" stroke-width="1.8"/><path d="M369.7 604.5L373.74 611.5L365.66 611.5Z" fill="none" stroke="#9A1A26" stroke-width="1.25"/><path d="M132.1 484.04H142.1" stroke="#E8141C" stroke-width="1.8"/><path d="M132.86 484.04H141.34M137.1 479.79V488.28" stroke="#E8141C" stroke-width="1.25"/><path d="M155.36 484.36H165.36" stroke="#E8141C" stroke-width="1.8"/><path d="M156.12 484.36H164.6M160.36 480.11V488.6" stroke="#E8141C" stroke-width="1.25"/><path d="M178.62 485.63H188.62" stroke="#E8141C" stroke-width="1.8"/><path d="M179.38 485.63H187.86M183.62 481.39V489.87" stroke="#E8141C" stroke-width="1.25"/><path d="M201.88 489.77H211.88" stroke="#E8141C" stroke-width="1.8"/><path d="M202.64 489.77H211.12M206.88 485.53V494.01" stroke="#E8141C" stroke-width="1.25"/><path d="M225.14 514.92H235.14" stroke="#E8141C" stroke-width="1.8"/><path d="M225.9 514.92H234.38M230.14 510.68V519.16" stroke="#E8141C" stroke-width="1.25"/><path d="M248.4 560.45H258.4" stroke="#E8141C" stroke-width="1.8"/><path d="M249.16 560.45H257.64M253.4 556.21V564.7" stroke="#E8141C" stroke-width="1.25"/><path d="M271.66 605.35H281.66" stroke="#E8141C" stroke-width="1.8"/><path d="M272.42 605.35H280.9M276.66 601.1V609.59" stroke="#E8141C" stroke-width="1.25"/><path d="M294.92 637.82H304.92" stroke="#E8141C" stroke-width="1.8"/><path d="M295.68 637.82H304.16M299.92 633.58V642.07" stroke="#E8141C" stroke-width="1.25"/><path d="M318.18 692.59H328.18" stroke="#E8141C" stroke-width="1.8"/><path d="M318.94 692.59H327.42M323.18 688.35V696.83" stroke="#E8141C" stroke-width="1.25"/><path d="M341.44 710.42H351.44" stroke="#E8141C" stroke-width="1.8"/><path d="M342.2 710.42H350.68M346.44 706.18V714.66" stroke="#E8141C" stroke-width="1.25"/><path d="M364.7 720.93H374.7" stroke="#E8141C" stroke-width="1.8"/><path d="M365.46 720.93H373.94M369.7 716.68V725.17" stroke="#E8141C" stroke-width="1.25"/><path d="M132.1 489.13H142.1" stroke="#F0A21E" stroke-width="1.8"/><path d="M134.1 486.13L140.1 492.13M134.1 492.13L140.1 486.13" stroke="#F0A21E" stroke-width="1.25"/><path d="M155.36 524.79H165.36" stroke="#F0A21E" stroke-width="1.8"/><path d="M157.36 521.79L163.36 527.79M157.36 527.79L163.36 521.79" stroke="#F0A21E" stroke-width="1.25"/><path d="M178.62 591.02H188.62" stroke="#F0A21E" stroke-width="1.8"/><path d="M180.62 588.02L186.62 594.02M180.62 594.02L186.62 588.02" stroke="#F0A21E" stroke-width="1.25"/><path d="M201.88 650.24H211.88" stroke="#F0A21E" stroke-width="1.8"/><path d="M203.88 647.24L209.88 653.24M203.88 653.24L209.88 647.24" stroke="#F0A21E" stroke-width="1.25"/><path d="M225.14 685.27H235.14" stroke="#F0A21E" stroke-width="1.8"/><path d="M227.14 682.27L233.14 688.27M227.14 688.27L233.14 682.27" stroke="#F0A21E" stroke-width="1.25"/><path d="M248.4 706.28H258.4" stroke="#F0A21E" stroke-width="1.8"/><path d="M250.4 703.28L256.4 709.28M250.4 709.28L256.4 703.28" stroke="#F0A21E" stroke-width="1.25"/><path d="M271.66 716.47H281.66" stroke="#F0A21E" stroke-width="1.8"/><path d="M273.66 713.47L279.66 719.47M273.66 719.47L279.66 713.47" stroke="#F0A21E" stroke-width="1.25"/><path d="M294.92 723.47H304.92" stroke="#F0A21E" stroke-width="1.8"/><path d="M296.92 720.47L302.92 726.47M296.92 726.47L302.92 720.47" stroke="#F0A21E" stroke-width="1.25"/><path d="M318.18 738.44H328.18" stroke="#F0A21E" stroke-width="1.8"/><path d="M320.18 735.44L326.18 741.44M320.18 741.44L326.18 735.44" stroke="#F0A21E" stroke-width="1.25"/><path d="M341.44 750.86H351.44" stroke="#F0A21E" stroke-width="1.8"/><path d="M343.44 747.86L349.44 753.86M343.44 753.86L349.44 747.86" stroke="#F0A21E" stroke-width="1.25"/><path d="M364.7 759.77H374.7" stroke="#F0A21E" stroke-width="1.8"/><path d="M366.7 756.77L372.7 762.77M366.7 762.77L372.7 756.77" stroke="#F0A21E" stroke-width="1.25"/><path d="M132.1 484.04H142.1" stroke="#1ECC1E" stroke-width="1.8"/><path d="M137.1 479.79L141.34 484.04L137.1 488.28L132.86 484.04Z" fill="none" stroke="#1ECC1E" stroke-width="1.25"/><path d="M155.36 484.99H165.36" stroke="#1ECC1E" stroke-width="1.8"/><path d="M160.36 480.75L164.6 484.99L160.36 489.23L156.12 484.99Z" fill="none" stroke="#1ECC1E" stroke-width="1.25"/><path d="M178.62 497.73H188.62" stroke="#1ECC1E" stroke-width="1.8"/><path d="M183.62 493.49L187.86 497.73L183.62 501.97L179.38 497.73Z" fill="none" stroke="#1ECC1E" stroke-width="1.25"/><path d="M201.88 537.53H211.88" stroke="#1ECC1E" stroke-width="1.8"/><path d="M206.88 533.29L211.12 537.53L206.88 541.77L202.64 537.53Z" fill="none" stroke="#1ECC1E" stroke-width="1.25"/><path d="M225.14 598.34H235.14" stroke="#1ECC1E" stroke-width="1.8"/><path d="M230.14 594.1L234.38 598.34L230.14 602.59L225.9 598.34Z" fill="none" stroke="#1ECC1E" stroke-width="1.25"/><path d="M248.4 666.48H258.4" stroke="#1ECC1E" stroke-width="1.8"/><path d="M253.4 662.24L257.64 666.48L253.4 670.72L249.16 666.48Z" fill="none" stroke="#1ECC1E" stroke-width="1.25"/><path d="M271.66 723.47H281.66" stroke="#1ECC1E" stroke-width="1.8"/><path d="M276.66 719.23L280.9 723.47L276.66 727.72L272.42 723.47Z" fill="none" stroke="#1ECC1E" stroke-width="1.25"/><path d="M294.92 756.27H304.92" stroke="#1ECC1E" stroke-width="1.8"/><path d="M299.92 752.03L304.16 756.27L299.92 760.51L295.68 756.27Z" fill="none" stroke="#1ECC1E" stroke-width="1.25"/><path d="M318.18 788.43H328.18" stroke="#1ECC1E" stroke-width="1.8"/><path d="M323.18 784.18L327.42 788.43L323.18 792.67L318.94 788.43Z" fill="none" stroke="#1ECC1E" stroke-width="1.25"/><path d="M341.44 794.48H351.44" stroke="#1ECC1E" stroke-width="1.8"/><path d="M346.44 790.23L350.68 794.48L346.44 798.72L342.2 794.48Z" fill="none" stroke="#1ECC1E" stroke-width="1.25"/><path d="M364.7 795.75H374.7" stroke="#1ECC1E" stroke-width="1.8"/><path d="M369.7 791.51L373.94 795.75L369.7 799.99L365.46 795.75Z" fill="none" stroke="#1ECC1E" stroke-width="1.25"/><path d="M132.1 484.04H142.1" stroke="#128C12" stroke-width="1.8"/><path d="M137.1 488.7L141.14 481.7L133.06 481.7Z" fill="none" stroke="#128C12" stroke-width="1.25"/><path d="M155.36 484.99H165.36" stroke="#128C12" stroke-width="1.8"/><path d="M160.36 489.66L164.4 482.66L156.32 482.66Z" fill="none" stroke="#128C12" stroke-width="1.25"/><path d="M178.62 498.36H188.62" stroke="#128C12" stroke-width="1.8"/><path d="M183.62 503.03L187.66 496.03L179.58 496.03Z" fill="none" stroke="#128C12" stroke-width="1.25"/><path d="M201.88 539.12H211.88" stroke="#128C12" stroke-width="1.8"/><path d="M206.88 543.79L210.92 536.79L202.84 536.79Z" fill="none" stroke="#128C12" stroke-width="1.25"/><path d="M225.14 607.58H235.14" stroke="#128C12" stroke-width="1.8"/><path d="M230.14 612.24L234.18 605.24L226.1 605.24Z" fill="none" stroke="#128C12" stroke-width="1.25"/><path d="M248.4 684.63H258.4" stroke="#128C12" stroke-width="1.8"/><path d="M253.4 689.29L257.44 682.3L249.36 682.3Z" fill="none" stroke="#128C12" stroke-width="1.25"/><path d="M271.66 738.12H281.66" stroke="#128C12" stroke-width="1.8"/><path d="M276.66 742.79L280.7 735.79L272.62 735.79Z" fill="none" stroke="#128C12" stroke-width="1.25"/><path d="M294.92 767.09H304.92" stroke="#128C12" stroke-width="1.8"/><path d="M299.92 771.76L303.96 764.76L295.88 764.76Z" fill="none" stroke="#128C12" stroke-width="1.25"/><path d="M318.18 790.66H328.18" stroke="#128C12" stroke-width="1.8"/><path d="M323.18 795.32L327.22 788.32L319.14 788.32Z" fill="none" stroke="#128C12" stroke-width="1.25"/><path d="M341.44 795.43H351.44" stroke="#128C12" stroke-width="1.8"/><path d="M346.44 800.1L350.48 793.1L342.4 793.1Z" fill="none" stroke="#128C12" stroke-width="1.25"/><path d="M364.7 797.02H374.7" stroke="#128C12" stroke-width="1.8"/><path d="M369.7 801.69L373.74 794.69L365.66 794.69Z" fill="none" stroke="#128C12" stroke-width="1.25"/><path d="M132.1 616.17H142.1" stroke="#8CCDEA" stroke-width="1.8"/><rect x="134.1" y="613.17" width="6" height="6" fill="none" stroke="#8CCDEA" stroke-width="1.25"/><path d="M134.1 613.17L140.1 619.17M134.1 619.17L140.1 613.17" stroke="#8CCDEA" stroke-width="1.0"/><path d="M155.36 733.66H165.36" stroke="#8CCDEA" stroke-width="1.8"/><rect x="157.36" y="730.66" width="6" height="6" fill="none" stroke="#8CCDEA" stroke-width="1.25"/><path d="M157.36 730.66L163.36 736.66M157.36 736.66L163.36 730.66" stroke="#8CCDEA" stroke-width="1.0"/><path d="M178.62 758.5H188.62" stroke="#8CCDEA" stroke-width="1.8"/><rect x="180.62" y="755.5" width="6" height="6" fill="none" stroke="#8CCDEA" stroke-width="1.25"/><path d="M180.62 755.5L186.62 761.5M180.62 761.5L186.62 755.5" stroke="#8CCDEA" stroke-width="1.0"/><path d="M201.88 767.41H211.88" stroke="#8CCDEA" stroke-width="1.8"/><rect x="203.88" y="764.41" width="6" height="6" fill="none" stroke="#8CCDEA" stroke-width="1.25"/><path d="M203.88 764.41L209.88 770.41M203.88 770.41L209.88 764.41" stroke="#8CCDEA" stroke-width="1.0"/><path d="M225.14 773.46H235.14" stroke="#8CCDEA" stroke-width="1.8"/><rect x="227.14" y="770.46" width="6" height="6" fill="none" stroke="#8CCDEA" stroke-width="1.25"/><path d="M227.14 770.46L233.14 776.46M227.14 776.46L233.14 770.46" stroke="#8CCDEA" stroke-width="1.0"/><path d="M248.4 779.19H258.4" stroke="#8CCDEA" stroke-width="1.8"/><rect x="250.4" y="776.19" width="6" height="6" fill="none" stroke="#8CCDEA" stroke-width="1.25"/><path d="M250.4 776.19L256.4 782.19M250.4 782.19L256.4 776.19" stroke="#8CCDEA" stroke-width="1.0"/><path d="M271.66 783.65H281.66" stroke="#8CCDEA" stroke-width="1.8"/><rect x="273.66" y="780.65" width="6" height="6" fill="none" stroke="#8CCDEA" stroke-width="1.25"/><path d="M273.66 780.65L279.66 786.65M273.66 786.65L279.66 780.65" stroke="#8CCDEA" stroke-width="1.0"/><path d="M294.92 787.15H304.92" stroke="#8CCDEA" stroke-width="1.8"/><rect x="296.92" y="784.15" width="6" height="6" fill="none" stroke="#8CCDEA" stroke-width="1.25"/><path d="M296.92 784.15L302.92 790.15M296.92 790.15L302.92 784.15" stroke="#8CCDEA" stroke-width="1.0"/><path d="M318.18 797.02H328.18" stroke="#8CCDEA" stroke-width="1.8"/><rect x="320.18" y="794.02" width="6" height="6" fill="none" stroke="#8CCDEA" stroke-width="1.25"/><path d="M320.18 794.02L326.18 800.02M320.18 800.02L326.18 794.02" stroke="#8CCDEA" stroke-width="1.0"/><path d="M341.44 799.89H351.44" stroke="#8CCDEA" stroke-width="1.8"/><rect x="343.44" y="796.89" width="6" height="6" fill="none" stroke="#8CCDEA" stroke-width="1.25"/><path d="M343.44 796.89L349.44 802.89M343.44 802.89L349.44 796.89" stroke="#8CCDEA" stroke-width="1.0"/><path d="M364.7 800.84H374.7" stroke="#8CCDEA" stroke-width="1.8"/><rect x="366.7" y="797.84" width="6" height="6" fill="none" stroke="#8CCDEA" stroke-width="1.25"/><path d="M366.7 797.84L372.7 803.84M366.7 803.84L372.7 797.84" stroke="#8CCDEA" stroke-width="1.0"/><path d="M132.1 485.63H142.1" stroke="#1010D0" stroke-width="1.8"/><path d="M132.86 485.63H141.34M137.1 481.39V489.87M134.1 482.63L140.1 488.63M134.1 488.63L140.1 482.63" stroke="#1010D0" stroke-width="1.5625"/><path d="M155.36 489.77H165.36" stroke="#1010D0" stroke-width="1.8"/><path d="M156.12 489.77H164.6M160.36 485.53V494.01M157.36 486.77L163.36 492.77M157.36 492.77L163.36 486.77" stroke="#1010D0" stroke-width="1.5625"/><path d="M178.62 505.37H188.62" stroke="#1010D0" stroke-width="1.8"/><path d="M179.38 505.37H187.86M183.62 501.13V509.61M180.62 502.37L186.62 508.37M180.62 508.37L186.62 502.37" stroke="#1010D0" stroke-width="1.5625"/><path d="M201.88 594.2H211.88" stroke="#1010D0" stroke-width="1.8"/><path d="M202.64 594.2H211.12M206.88 589.96V598.45M203.88 591.2L209.88 597.2M203.88 597.2L209.88 591.2" stroke="#1010D0" stroke-width="1.5625"/><path d="M225.14 685.27H235.14" stroke="#1010D0" stroke-width="1.8"/><path d="M225.9 685.27H234.38M230.14 681.02V689.51M227.14 682.27L233.14 688.27M227.14 688.27L233.14 682.27" stroke="#1010D0" stroke-width="1.5625"/><path d="M248.4 721.24H258.4" stroke="#1010D0" stroke-width="1.8"/><path d="M249.16 721.24H257.64M253.4 717V725.49M250.4 718.24L256.4 724.24M250.4 724.24L256.4 718.24" stroke="#1010D0" stroke-width="1.5625"/><path d="M271.66 737.8H281.66" stroke="#1010D0" stroke-width="1.8"/><path d="M272.42 737.8H280.9M276.66 733.56V742.04M273.66 734.8L279.66 740.8M273.66 740.8L279.66 734.8" stroke="#1010D0" stroke-width="1.5625"/><path d="M294.92 744.17H304.92" stroke="#1010D0" stroke-width="1.8"/><path d="M295.68 744.17H304.16M299.92 739.93V748.41M296.92 741.17L302.92 747.17M296.92 747.17L302.92 741.17" stroke="#1010D0" stroke-width="1.5625"/><path d="M318.18 762.96H328.18" stroke="#1010D0" stroke-width="1.8"/><path d="M318.94 762.96H327.42M323.18 758.71V767.2M320.18 759.96L326.18 765.96M320.18 765.96L326.18 759.96" stroke="#1010D0" stroke-width="1.5625"/><path d="M341.44 775.05H351.44" stroke="#1010D0" stroke-width="1.8"/><path d="M342.2 775.05H350.68M346.44 770.81V779.3M343.44 772.05L349.44 778.05M343.44 778.05L349.44 772.05" stroke="#1010D0" stroke-width="1.5625"/><path d="M364.7 785.56H374.7" stroke="#1010D0" stroke-width="1.8"/><path d="M365.46 785.56H373.94M369.7 781.32V789.8M366.7 782.56L372.7 788.56M366.7 788.56L372.7 782.56" stroke="#1010D0" stroke-width="1.5625"/><path d="M132.1 521.93H142.1" stroke="#8A3CE0" stroke-width="1.8"/><path d="M137.1 517.68L141.34 521.93L137.1 526.17L132.86 521.93ZM132.86 521.93H141.34M137.1 517.68V526.17" fill="none" stroke="#8A3CE0" stroke-width="1.25"/><path d="M155.36 577.65H165.36" stroke="#8A3CE0" stroke-width="1.8"/><path d="M160.36 573.4L164.6 577.65L160.36 581.89L156.12 577.65ZM156.12 577.65H164.6M160.36 573.4V581.89" fill="none" stroke="#8A3CE0" stroke-width="1.25"/><path d="M178.62 648.97H188.62" stroke="#8A3CE0" stroke-width="1.8"/><path d="M183.62 644.73L187.86 648.97L183.62 653.21L179.38 648.97ZM179.38 648.97H187.86M183.62 644.73V653.21" fill="none" stroke="#8A3CE0" stroke-width="1.25"/><path d="M201.88 700.55H211.88" stroke="#8A3CE0" stroke-width="1.8"/><path d="M206.88 696.31L211.12 700.55L206.88 704.79L202.64 700.55ZM202.64 700.55H211.12M206.88 696.31V704.79" fill="none" stroke="#8A3CE0" stroke-width="1.25"/><path d="M225.14 722.84H235.14" stroke="#8A3CE0" stroke-width="1.8"/><path d="M230.14 718.59L234.38 722.84L230.14 727.08L225.9 722.84ZM225.9 722.84H234.38M230.14 718.59V727.08" fill="none" stroke="#8A3CE0" stroke-width="1.25"/><path d="M248.4 733.98H258.4" stroke="#8A3CE0" stroke-width="1.8"/><path d="M253.4 729.74L257.64 733.98L253.4 738.22L249.16 733.98ZM249.16 733.98H257.64M253.4 729.74V738.22" fill="none" stroke="#8A3CE0" stroke-width="1.25"/><path d="M271.66 737.8H281.66" stroke="#8A3CE0" stroke-width="1.8"/><path d="M276.66 733.56L280.9 737.8L276.66 742.04L272.42 737.8ZM272.42 737.8H280.9M276.66 733.56V742.04" fill="none" stroke="#8A3CE0" stroke-width="1.25"/><path d="M294.92 744.17H304.92" stroke="#8A3CE0" stroke-width="1.8"/><path d="M299.92 739.93L304.16 744.17L299.92 748.41L295.68 744.17ZM295.68 744.17H304.16M299.92 739.93V748.41" fill="none" stroke="#8A3CE0" stroke-width="1.25"/><path d="M318.18 754.36H328.18" stroke="#8A3CE0" stroke-width="1.8"/><path d="M323.18 750.12L327.42 754.36L323.18 758.6L318.94 754.36ZM318.94 754.36H327.42M323.18 750.12V758.6" fill="none" stroke="#8A3CE0" stroke-width="1.25"/><path d="M341.44 764.23H351.44" stroke="#8A3CE0" stroke-width="1.8"/><path d="M346.44 759.99L350.68 764.23L346.44 768.47L342.2 764.23ZM342.2 764.23H350.68M346.44 759.99V768.47" fill="none" stroke="#8A3CE0" stroke-width="1.25"/><path d="M364.7 774.42H374.7" stroke="#8A3CE0" stroke-width="1.8"/><path d="M369.7 770.17L373.94 774.42L369.7 778.66L365.46 774.42ZM365.46 774.42H373.94M369.7 770.17V778.66" fill="none" stroke="#8A3CE0" stroke-width="1.25"/><path d="M132.1 485.63H142.1" stroke="#DC70A0" stroke-width="1.8"/><circle cx="137.1" cy="485.63" r="3" fill="#DC70A0" fill-opacity="0.4" stroke="#DC70A0" stroke-width="1.25"/><path d="M134.1 485.63H140.1M137.1 482.63V488.63" stroke="#DC70A0" stroke-width="1.0"/><path d="M155.36 486.58H165.36" stroke="#DC70A0" stroke-width="1.8"/><circle cx="160.36" cy="486.58" r="3" fill="#DC70A0" fill-opacity="0.4" stroke="#DC70A0" stroke-width="1.25"/><path d="M157.36 486.58H163.36M160.36 483.58V489.58" stroke="#DC70A0" stroke-width="1.0"/><path d="M178.62 489.77H188.62" stroke="#DC70A0" stroke-width="1.8"/><circle cx="183.62" cy="489.77" r="3" fill="#DC70A0" fill-opacity="0.4" stroke="#DC70A0" stroke-width="1.25"/><path d="M180.62 489.77H186.62M183.62 486.77V492.77" stroke="#DC70A0" stroke-width="1.0"/><path d="M201.88 502.5H211.88" stroke="#DC70A0" stroke-width="1.8"/><circle cx="206.88" cy="502.5" r="3" fill="#DC70A0" fill-opacity="0.4" stroke="#DC70A0" stroke-width="1.25"/><path d="M203.88 502.5H209.88M206.88 499.5V505.5" stroke="#DC70A0" stroke-width="1.0"/><path d="M225.14 526.38H235.14" stroke="#DC70A0" stroke-width="1.8"/><circle cx="230.14" cy="526.38" r="3" fill="#DC70A0" fill-opacity="0.4" stroke="#DC70A0" stroke-width="1.25"/><path d="M227.14 526.38H233.14M230.14 523.38V529.38" stroke="#DC70A0" stroke-width="1.0"/><path d="M248.4 559.82H258.4" stroke="#DC70A0" stroke-width="1.8"/><circle cx="253.4" cy="559.82" r="3" fill="#DC70A0" fill-opacity="0.4" stroke="#DC70A0" stroke-width="1.25"/><path d="M250.4 559.82H256.4M253.4 556.82V562.82" stroke="#DC70A0" stroke-width="1.0"/><path d="M271.66 596.11H281.66" stroke="#DC70A0" stroke-width="1.8"/><circle cx="276.66" cy="596.11" r="3" fill="#DC70A0" fill-opacity="0.4" stroke="#DC70A0" stroke-width="1.25"/><path d="M273.66 596.11H279.66M276.66 593.11V599.11" stroke="#DC70A0" stroke-width="1.0"/><path d="M294.92 627.95H304.92" stroke="#DC70A0" stroke-width="1.8"/><circle cx="299.92" cy="627.95" r="3" fill="#DC70A0" fill-opacity="0.4" stroke="#DC70A0" stroke-width="1.25"/><path d="M296.92 627.95H302.92M299.92 624.95V630.95" stroke="#DC70A0" stroke-width="1.0"/><path d="M318.18 709.78H328.18" stroke="#DC70A0" stroke-width="1.8"/><circle cx="323.18" cy="709.78" r="3" fill="#DC70A0" fill-opacity="0.4" stroke="#DC70A0" stroke-width="1.25"/><path d="M320.18 709.78H326.18M323.18 706.78V712.78" stroke="#DC70A0" stroke-width="1.0"/><path d="M341.44 750.54H351.44" stroke="#DC70A0" stroke-width="1.8"/><circle cx="346.44" cy="750.54" r="3" fill="#DC70A0" fill-opacity="0.4" stroke="#DC70A0" stroke-width="1.25"/><path d="M343.44 750.54H349.44M346.44 747.54V753.54" stroke="#DC70A0" stroke-width="1.0"/><path d="M364.7 765.82H374.7" stroke="#DC70A0" stroke-width="1.8"/><circle cx="369.7" cy="765.82" r="3" fill="#DC70A0" fill-opacity="0.4" stroke="#DC70A0" stroke-width="1.25"/><path d="M366.7 765.82H372.7M369.7 762.82V768.82" stroke="#DC70A0" stroke-width="1.0"/><rect x="127.5" y="470.9" width="251.3" height="343.7" fill="none" stroke="#000" stroke-width="1.5"/><path d="M136.9 814.6V822.9M160.16 814.6V822.9M183.42 814.6V822.9M206.68 814.6V822.9M229.94 814.6V822.9M253.2 814.6V822.9M276.46 814.6V822.9M299.72 814.6V822.9M322.98 814.6V822.9M346.24 814.6V822.9M369.5 814.6V822.9M127.5 801.8H119.2M127.5 738.12H119.2M127.5 674.44H119.2M127.5 610.76H119.2M127.5 547.08H119.2M127.5 483.4H119.2" stroke="#000" stroke-width="1.5" fill="none"/><text x="136.9" y="843.2" font-size="10.3" letter-spacing="-0.2" text-anchor="middle">.25</text><text x="160.16" y="843.2" font-size="10.3" letter-spacing="-0.2" text-anchor="middle">.50</text><text x="183.42" y="843.2" font-size="10.3" letter-spacing="-0.2" text-anchor="middle">.75</text><text x="206.68" y="843.2" font-size="10.3" letter-spacing="-0.2" text-anchor="middle">1.00</text><text x="229.94" y="843.2" font-size="10.3" letter-spacing="-0.2" text-anchor="middle">1.25</text><text x="253.2" y="843.2" font-size="10.3" letter-spacing="-0.2" text-anchor="middle">1.50</text><text x="276.46" y="843.2" font-size="10.3" letter-spacing="-0.2" text-anchor="middle">1.75</text><text x="299.72" y="843.2" font-size="10.3" letter-spacing="-0.2" text-anchor="middle">2.00</text><text x="322.98" y="843.2" font-size="10.3" letter-spacing="-0.2" text-anchor="middle">3.00</text><text x="346.24" y="843.2" font-size="10.3" letter-spacing="-0.2" text-anchor="middle">4.00</text><text x="369.5" y="843.2" font-size="10.3" letter-spacing="-0.2" text-anchor="middle">5.00</text><text transform="translate(109.8 801.3) rotate(-90)" font-size="12" text-anchor="middle">0.0</text><text transform="translate(109.8 737.62) rotate(-90)" font-size="12" text-anchor="middle">0.2</text><text transform="translate(109.8 673.94) rotate(-90)" font-size="12" text-anchor="middle">0.4</text><text transform="translate(109.8 610.26) rotate(-90)" font-size="12" text-anchor="middle">0.6</text><text transform="translate(109.8 546.58) rotate(-90)" font-size="12" text-anchor="middle">0.8</text><text transform="translate(109.8 482.9) rotate(-90)" font-size="12" text-anchor="middle">1.0</text><text x="127.1" y="465" font-size="18">C</text><path d="M438.39 517.94L456.86 572.09M461.71 586.07L480.04 638.05M486.21 651.43L502.04 678.75M512.59 687.97L522.16 691.9M536.18 696.48L545.07 698.67M559.22 702.93L568.53 706.24M582.83 709.73L591.42 710.9M604.58 716.46L616.17 725.51M627.2 735.33L640.05 748.36M650.41 758.94L663.34 772.22" fill="none" stroke="#000000" stroke-width="1.3"/><path d="M438.48 515.68L456.77 567.03M461.32 581.1L480.43 646.52M485.67 660.31L502.58 695.99M510.77 708.11L523.98 722.4M535.56 731.25L545.69 736.52M559.19 742.5L568.56 745.97M582.79 749.83L591.46 751.38M605.16 756.37L615.59 762.36M629.18 767.83L638.07 770.02M652.43 773.56L661.32 775.75" fill="none" stroke="#708090" stroke-width="1.3"/><path d="M438.19 524.38L457.06 585.4M461.62 599.48L480.13 654.26M487.84 666.39L500.41 678.44M512.42 686.76L522.33 691.51M536.38 695.32L544.87 696.01M559.65 696.52L568.1 696.4M582.89 696L591.36 695.65M606.15 695.35L614.6 695.35M629.3 696.55L637.95 697.97M651.81 702.59L661.94 707.86" fill="none" stroke="#9A1A26" stroke-width="1.3"/><path d="M439.6 502.11L455.65 530.91M461.38 544.46L480.37 607.68M484.18 621.97L504.07 707.25M508.87 721.17L525.88 757.75M534.95 768.86L546.3 777.26M559.34 783.8L568.41 786.53M582.82 789.77L591.43 791.07M606.14 792.58L614.61 793.04M629.4 793.45L637.85 793.45M652.65 793.24L661.1 793.01" fill="none" stroke="#1ECC1E" stroke-width="1.3"/><path d="M439.52 502.16L455.73 532.14M461.06 545.82L480.69 623.52M484.17 637.9L504.08 724.13M509.19 737.89L525.56 769.06M535.64 778.88L545.61 783.8M559.5 788.56L568.25 790.36M582.88 792.36L591.37 792.94M606.13 793.95L614.62 794.53M629.4 795.04L637.85 795.04M652.64 794.73L661.11 794.39" fill="none" stroke="#128C12" stroke-width="1.3"/><path d="M438.41 684.83L456.84 738.35M465.81 748.77L475.94 754.04M489.68 759.23L498.57 761.42M513.08 764.19L521.67 765.37M536.18 768.14L545.07 770.33M559.55 773.31L568.2 774.73M582.79 777.22L591.46 778.77M605.16 783.76L615.59 789.75M629.23 795.03L638.02 796.96M652.64 798.95L661.11 799.41" fill="none" stroke="#8CCDEA" stroke-width="1.3"/><path d="M441.79 676.06L453.46 685.33M463.37 696.08L478.38 718.5M489.03 728.14L499.22 733.58M513.02 738.46L521.73 740.14M536.39 741.93L544.86 742.4M559.65 742.8L568.1 742.8M582.9 742.9L591.35 743.02M606.15 743.32L614.6 743.56M628.78 746.73L638.47 750.98M651.89 757.22L661.86 762.14" fill="none" stroke="#1010D0" stroke-width="1.3"/><path d="M437.99 551.51L457.26 620.7M461.82 634.76L479.93 683.63M488.18 695.31L500.07 705.25M512.98 711.58L521.77 713.51M536.38 715.7L544.87 716.4M559.64 716.6L568.11 716.14M582.9 715.53L591.35 715.3M606.14 714.69L614.61 714.22M629.27 715.21L637.98 716.89M651.85 721.62L661.9 726.72" fill="none" stroke="#8A3CE0" stroke-width="1.3"/><path d="M438.92 511.68L456.33 552.23M461.63 566.04L480.12 620.5M485.92 634.07L502.33 665.53M511.05 677.26L523.7 689.55M535.78 697.68L545.47 701.93M559.55 706.1L568.2 707.52M582.64 710.68L591.61 713.14M603.6 720.68L617.15 736.26M628.56 745.26L638.69 750.53M652.09 756.76L661.66 760.69" fill="none" stroke="#DC70A0" stroke-width="1.3"/><path d="M439.85 506.75L455.4 532.32M461.83 545.58L479.92 594.14M485.64 607.77L502.61 644.05M510.7 656.25L524.05 671.06M535.67 679.75L545.58 684.5M559.55 688.9L568.2 690.32M582.9 691.73L591.35 691.96M606.15 691.96L614.6 691.73M629.4 691.52L637.85 691.52M652.22 694.01L661.53 697.32" fill="none" stroke="#E8141C" stroke-width="1.3"/><path d="M438.67 513.7L456.58 560.09M461.5 574.04L480.25 632.88M486.28 646.29L501.97 672.74M511.89 683.23L522.86 690.59M536.23 696.29L545.02 698.22M559.63 700.31L568.12 700.89M582.89 701.7L591.36 702.05M606.08 703.36L614.67 704.53M628.64 708.81L638.61 713.73M651.04 721.61L662.71 730.87" fill="none" stroke="#F0A21E" stroke-width="1.3"/><path d="M431 510.94H441" stroke="#000000" stroke-width="1.8"/><rect x="433" y="507.94" width="6" height="6" fill="none" stroke="#000000" stroke-width="1.25"/><path d="M454.25 579.09H464.25" stroke="#000000" stroke-width="1.8"/><rect x="456.25" y="576.09" width="6" height="6" fill="none" stroke="#000000" stroke-width="1.25"/><path d="M477.5 645.02H487.5" stroke="#000000" stroke-width="1.8"/><rect x="479.5" y="642.02" width="6" height="6" fill="none" stroke="#000000" stroke-width="1.25"/><path d="M500.75 685.15H510.75" stroke="#000000" stroke-width="1.8"/><rect x="502.75" y="682.15" width="6" height="6" fill="none" stroke="#000000" stroke-width="1.25"/><path d="M524 694.71H534" stroke="#000000" stroke-width="1.8"/><rect x="526" y="691.71" width="6" height="6" fill="none" stroke="#000000" stroke-width="1.25"/><path d="M547.25 700.44H557.25" stroke="#000000" stroke-width="1.8"/><rect x="549.25" y="697.44" width="6" height="6" fill="none" stroke="#000000" stroke-width="1.25"/><path d="M570.5 708.72H580.5" stroke="#000000" stroke-width="1.8"/><rect x="572.5" y="705.72" width="6" height="6" fill="none" stroke="#000000" stroke-width="1.25"/><path d="M593.75 711.91H603.75" stroke="#000000" stroke-width="1.8"/><rect x="595.75" y="708.91" width="6" height="6" fill="none" stroke="#000000" stroke-width="1.25"/><path d="M617 730.06H627" stroke="#000000" stroke-width="1.8"/><rect x="619" y="727.06" width="6" height="6" fill="none" stroke="#000000" stroke-width="1.25"/><path d="M640.25 753.63H650.25" stroke="#000000" stroke-width="1.8"/><rect x="642.25" y="750.63" width="6" height="6" fill="none" stroke="#000000" stroke-width="1.25"/><path d="M663.5 777.52H673.5" stroke="#000000" stroke-width="1.8"/><rect x="665.5" y="774.52" width="6" height="6" fill="none" stroke="#000000" stroke-width="1.25"/><path d="M431 508.71H441" stroke="#708090" stroke-width="1.8"/><circle cx="436" cy="508.71" r="3" fill="none" stroke="#708090" stroke-width="1.25"/><path d="M454.25 574H464.25" stroke="#708090" stroke-width="1.8"/><circle cx="459.25" cy="574" r="3" fill="none" stroke="#708090" stroke-width="1.25"/><path d="M477.5 653.62H487.5" stroke="#708090" stroke-width="1.8"/><circle cx="482.5" cy="653.62" r="3" fill="none" stroke="#708090" stroke-width="1.25"/><path d="M500.75 702.67H510.75" stroke="#708090" stroke-width="1.8"/><circle cx="505.75" cy="702.67" r="3" fill="none" stroke="#708090" stroke-width="1.25"/><path d="M524 727.83H534" stroke="#708090" stroke-width="1.8"/><circle cx="529" cy="727.83" r="3" fill="none" stroke="#708090" stroke-width="1.25"/><path d="M547.25 739.94H557.25" stroke="#708090" stroke-width="1.8"/><circle cx="552.25" cy="739.94" r="3" fill="none" stroke="#708090" stroke-width="1.25"/><path d="M570.5 748.54H580.5" stroke="#708090" stroke-width="1.8"/><circle cx="575.5" cy="748.54" r="3" fill="none" stroke="#708090" stroke-width="1.25"/><path d="M593.75 752.68H603.75" stroke="#708090" stroke-width="1.8"/><circle cx="598.75" cy="752.68" r="3" fill="none" stroke="#708090" stroke-width="1.25"/><path d="M617 766.05H627" stroke="#708090" stroke-width="1.8"/><circle cx="622" cy="766.05" r="3" fill="none" stroke="#708090" stroke-width="1.25"/><path d="M640.25 771.79H650.25" stroke="#708090" stroke-width="1.8"/><circle cx="645.25" cy="771.79" r="3" fill="none" stroke="#708090" stroke-width="1.25"/><path d="M663.5 777.52H673.5" stroke="#708090" stroke-width="1.8"/><circle cx="668.5" cy="777.52" r="3" fill="none" stroke="#708090" stroke-width="1.25"/><path d="M431 517.31H441" stroke="#9A1A26" stroke-width="1.8"/><path d="M436 512.64L440.04 519.64L431.96 519.64Z" fill="none" stroke="#9A1A26" stroke-width="1.25"/><path d="M454.25 592.47H464.25" stroke="#9A1A26" stroke-width="1.8"/><path d="M459.25 587.81L463.29 594.8L455.21 594.8Z" fill="none" stroke="#9A1A26" stroke-width="1.25"/><path d="M477.5 661.27H487.5" stroke="#9A1A26" stroke-width="1.8"/><path d="M482.5 656.6L486.54 663.6L478.46 663.6Z" fill="none" stroke="#9A1A26" stroke-width="1.25"/><path d="M500.75 683.56H510.75" stroke="#9A1A26" stroke-width="1.8"/><path d="M505.75 678.9L509.79 685.9L501.71 685.9Z" fill="none" stroke="#9A1A26" stroke-width="1.25"/><path d="M524 694.71H534" stroke="#9A1A26" stroke-width="1.8"/><path d="M529 690.04L533.04 697.04L524.96 697.04Z" fill="none" stroke="#9A1A26" stroke-width="1.25"/><path d="M547.25 696.62H557.25" stroke="#9A1A26" stroke-width="1.8"/><path d="M552.25 691.96L556.29 698.95L548.21 698.95Z" fill="none" stroke="#9A1A26" stroke-width="1.25"/><path d="M570.5 696.3H580.5" stroke="#9A1A26" stroke-width="1.8"/><path d="M575.5 691.64L579.54 698.64L571.46 698.64Z" fill="none" stroke="#9A1A26" stroke-width="1.25"/><path d="M593.75 695.35H603.75" stroke="#9A1A26" stroke-width="1.8"/><path d="M598.75 690.68L602.79 697.68L594.71 697.68Z" fill="none" stroke="#9A1A26" stroke-width="1.25"/><path d="M617 695.35H627" stroke="#9A1A26" stroke-width="1.8"/><path d="M622 690.68L626.04 697.68L617.96 697.68Z" fill="none" stroke="#9A1A26" stroke-width="1.25"/><path d="M640.25 699.17H650.25" stroke="#9A1A26" stroke-width="1.8"/><path d="M645.25 694.5L649.29 701.5L641.21 701.5Z" fill="none" stroke="#9A1A26" stroke-width="1.25"/><path d="M663.5 711.27H673.5" stroke="#9A1A26" stroke-width="1.8"/><path d="M668.5 706.61L672.54 713.6L664.46 713.6Z" fill="none" stroke="#9A1A26" stroke-width="1.25"/><path d="M431 500.43H441" stroke="#E8141C" stroke-width="1.8"/><path d="M431.76 500.43H440.24M436 496.18V504.67" stroke="#E8141C" stroke-width="1.25"/><path d="M454.25 538.64H464.25" stroke="#E8141C" stroke-width="1.8"/><path d="M455.01 538.64H463.49M459.25 534.4V542.89" stroke="#E8141C" stroke-width="1.25"/><path d="M477.5 601.07H487.5" stroke="#E8141C" stroke-width="1.8"/><path d="M478.26 601.07H486.74M482.5 596.83V605.31" stroke="#E8141C" stroke-width="1.25"/><path d="M500.75 650.76H510.75" stroke="#E8141C" stroke-width="1.8"/><path d="M501.51 650.76H509.99M505.75 646.51V655" stroke="#E8141C" stroke-width="1.25"/><path d="M524 676.56H534" stroke="#E8141C" stroke-width="1.8"/><path d="M524.76 676.56H533.24M529 672.31V680.8" stroke="#E8141C" stroke-width="1.25"/><path d="M547.25 687.7H557.25" stroke="#E8141C" stroke-width="1.8"/><path d="M548.01 687.7H556.49M552.25 683.46V691.95" stroke="#E8141C" stroke-width="1.25"/><path d="M570.5 691.52H580.5" stroke="#E8141C" stroke-width="1.8"/><path d="M571.26 691.52H579.74M575.5 687.28V695.77" stroke="#E8141C" stroke-width="1.25"/><path d="M593.75 692.16H603.75" stroke="#E8141C" stroke-width="1.8"/><path d="M594.51 692.16H602.99M598.75 687.92V696.4" stroke="#E8141C" stroke-width="1.25"/><path d="M617 691.52H627" stroke="#E8141C" stroke-width="1.8"/><path d="M617.76 691.52H626.24M622 687.28V695.77" stroke="#E8141C" stroke-width="1.25"/><path d="M640.25 691.52H650.25" stroke="#E8141C" stroke-width="1.8"/><path d="M641.01 691.52H649.49M645.25 687.28V695.77" stroke="#E8141C" stroke-width="1.25"/><path d="M663.5 699.81H673.5" stroke="#E8141C" stroke-width="1.8"/><path d="M664.26 699.81H672.74M668.5 695.56V704.05" stroke="#E8141C" stroke-width="1.25"/><path d="M431 506.79H441" stroke="#F0A21E" stroke-width="1.8"/><path d="M433 503.79L439 509.79M433 509.79L439 503.79" stroke="#F0A21E" stroke-width="1.25"/><path d="M454.25 566.99H464.25" stroke="#F0A21E" stroke-width="1.8"/><path d="M456.25 563.99L462.25 569.99M456.25 569.99L462.25 563.99" stroke="#F0A21E" stroke-width="1.25"/><path d="M477.5 639.93H487.5" stroke="#F0A21E" stroke-width="1.8"/><path d="M479.5 636.93L485.5 642.93M479.5 642.93L485.5 636.93" stroke="#F0A21E" stroke-width="1.25"/><path d="M500.75 679.1H510.75" stroke="#F0A21E" stroke-width="1.8"/><path d="M502.75 676.1L508.75 682.1M502.75 682.1L508.75 676.1" stroke="#F0A21E" stroke-width="1.25"/><path d="M524 694.71H534" stroke="#F0A21E" stroke-width="1.8"/><path d="M526 691.71L532 697.71M526 697.71L532 691.71" stroke="#F0A21E" stroke-width="1.25"/><path d="M547.25 699.81H557.25" stroke="#F0A21E" stroke-width="1.8"/><path d="M549.25 696.81L555.25 702.81M549.25 702.81L555.25 696.81" stroke="#F0A21E" stroke-width="1.25"/><path d="M570.5 701.4H580.5" stroke="#F0A21E" stroke-width="1.8"/><path d="M572.5 698.4L578.5 704.4M572.5 704.4L578.5 698.4" stroke="#F0A21E" stroke-width="1.25"/><path d="M593.75 702.35H603.75" stroke="#F0A21E" stroke-width="1.8"/><path d="M595.75 699.35L601.75 705.35M595.75 705.35L601.75 699.35" stroke="#F0A21E" stroke-width="1.25"/><path d="M617 705.54H627" stroke="#F0A21E" stroke-width="1.8"/><path d="M619 702.54L625 708.54M619 708.54L625 702.54" stroke="#F0A21E" stroke-width="1.25"/><path d="M640.25 717H650.25" stroke="#F0A21E" stroke-width="1.8"/><path d="M642.25 714L648.25 720M642.25 720L648.25 714" stroke="#F0A21E" stroke-width="1.25"/><path d="M663.5 735.48H673.5" stroke="#F0A21E" stroke-width="1.8"/><path d="M665.5 732.48L671.5 738.48M665.5 738.48L671.5 732.48" stroke="#F0A21E" stroke-width="1.25"/><path d="M431 495.65H441" stroke="#1ECC1E" stroke-width="1.8"/><path d="M436 491.4L440.24 495.65L436 499.89L431.76 495.65Z" fill="none" stroke="#1ECC1E" stroke-width="1.25"/><path d="M454.25 537.37H464.25" stroke="#1ECC1E" stroke-width="1.8"/><path d="M459.25 533.13L463.49 537.37L459.25 541.61L455.01 537.37Z" fill="none" stroke="#1ECC1E" stroke-width="1.25"/><path d="M477.5 614.77H487.5" stroke="#1ECC1E" stroke-width="1.8"/><path d="M482.5 610.52L486.74 614.77L482.5 619.01L478.26 614.77Z" fill="none" stroke="#1ECC1E" stroke-width="1.25"/><path d="M500.75 714.46H510.75" stroke="#1ECC1E" stroke-width="1.8"/><path d="M505.75 710.21L509.99 714.46L505.75 718.7L501.51 714.46Z" fill="none" stroke="#1ECC1E" stroke-width="1.25"/><path d="M524 764.46H534" stroke="#1ECC1E" stroke-width="1.8"/><path d="M529 760.22L533.24 764.46L529 768.7L524.76 764.46Z" fill="none" stroke="#1ECC1E" stroke-width="1.25"/><path d="M547.25 781.66H557.25" stroke="#1ECC1E" stroke-width="1.8"/><path d="M552.25 777.42L556.49 781.66L552.25 785.9L548.01 781.66Z" fill="none" stroke="#1ECC1E" stroke-width="1.25"/><path d="M570.5 788.67H580.5" stroke="#1ECC1E" stroke-width="1.8"/><path d="M575.5 784.42L579.74 788.67L575.5 792.91L571.26 788.67Z" fill="none" stroke="#1ECC1E" stroke-width="1.25"/><path d="M593.75 792.17H603.75" stroke="#1ECC1E" stroke-width="1.8"/><path d="M598.75 787.93L602.99 792.17L598.75 796.41L594.51 792.17Z" fill="none" stroke="#1ECC1E" stroke-width="1.25"/><path d="M617 793.45H627" stroke="#1ECC1E" stroke-width="1.8"/><path d="M622 789.2L626.24 793.45L622 797.69L617.76 793.45Z" fill="none" stroke="#1ECC1E" stroke-width="1.25"/><path d="M640.25 793.45H650.25" stroke="#1ECC1E" stroke-width="1.8"/><path d="M645.25 789.2L649.49 793.45L645.25 797.69L641.01 793.45Z" fill="none" stroke="#1ECC1E" stroke-width="1.25"/><path d="M663.5 792.81H673.5" stroke="#1ECC1E" stroke-width="1.8"/><path d="M668.5 788.57L672.74 792.81L668.5 797.05L664.26 792.81Z" fill="none" stroke="#1ECC1E" stroke-width="1.25"/><path d="M431 495.65H441" stroke="#128C12" stroke-width="1.8"/><path d="M436 500.31L440.04 493.31L431.96 493.31Z" fill="none" stroke="#128C12" stroke-width="1.25"/><path d="M454.25 538.64H464.25" stroke="#128C12" stroke-width="1.8"/><path d="M459.25 543.31L463.29 536.31L455.21 536.31Z" fill="none" stroke="#128C12" stroke-width="1.25"/><path d="M477.5 630.69H487.5" stroke="#128C12" stroke-width="1.8"/><path d="M482.5 635.36L486.54 628.36L478.46 628.36Z" fill="none" stroke="#128C12" stroke-width="1.25"/><path d="M500.75 731.34H510.75" stroke="#128C12" stroke-width="1.8"/><path d="M505.75 736L509.79 729L501.71 729Z" fill="none" stroke="#128C12" stroke-width="1.25"/><path d="M524 775.61H534" stroke="#128C12" stroke-width="1.8"/><path d="M529 780.27L533.04 773.28L524.96 773.28Z" fill="none" stroke="#128C12" stroke-width="1.25"/><path d="M547.25 787.08H557.25" stroke="#128C12" stroke-width="1.8"/><path d="M552.25 791.74L556.29 784.74L548.21 784.74Z" fill="none" stroke="#128C12" stroke-width="1.25"/><path d="M570.5 791.85H580.5" stroke="#128C12" stroke-width="1.8"/><path d="M575.5 796.52L579.54 789.52L571.46 789.52Z" fill="none" stroke="#128C12" stroke-width="1.25"/><path d="M593.75 793.45H603.75" stroke="#128C12" stroke-width="1.8"/><path d="M598.75 798.11L602.79 791.11L594.71 791.11Z" fill="none" stroke="#128C12" stroke-width="1.25"/><path d="M617 795.04H627" stroke="#128C12" stroke-width="1.8"/><path d="M622 799.7L626.04 792.7L617.96 792.7Z" fill="none" stroke="#128C12" stroke-width="1.25"/><path d="M640.25 795.04H650.25" stroke="#128C12" stroke-width="1.8"/><path d="M645.25 799.7L649.29 792.7L641.21 792.7Z" fill="none" stroke="#128C12" stroke-width="1.25"/><path d="M663.5 794.08H673.5" stroke="#128C12" stroke-width="1.8"/><path d="M668.5 798.75L672.54 791.75L664.46 791.75Z" fill="none" stroke="#128C12" stroke-width="1.25"/><path d="M431 677.83H441" stroke="#8CCDEA" stroke-width="1.8"/><rect x="433" y="674.83" width="6" height="6" fill="none" stroke="#8CCDEA" stroke-width="1.25"/><path d="M433 674.83L439 680.83M433 680.83L439 674.83" stroke="#8CCDEA" stroke-width="1.0"/><path d="M454.25 745.35H464.25" stroke="#8CCDEA" stroke-width="1.8"/><rect x="456.25" y="742.35" width="6" height="6" fill="none" stroke="#8CCDEA" stroke-width="1.25"/><path d="M456.25 742.35L462.25 748.35M456.25 748.35L462.25 742.35" stroke="#8CCDEA" stroke-width="1.0"/><path d="M477.5 757.45H487.5" stroke="#8CCDEA" stroke-width="1.8"/><rect x="479.5" y="754.45" width="6" height="6" fill="none" stroke="#8CCDEA" stroke-width="1.25"/><path d="M479.5 754.45L485.5 760.45M479.5 760.45L485.5 754.45" stroke="#8CCDEA" stroke-width="1.0"/><path d="M500.75 763.19H510.75" stroke="#8CCDEA" stroke-width="1.8"/><rect x="502.75" y="760.19" width="6" height="6" fill="none" stroke="#8CCDEA" stroke-width="1.25"/><path d="M502.75 760.19L508.75 766.19M502.75 766.19L508.75 760.19" stroke="#8CCDEA" stroke-width="1.0"/><path d="M524 766.37H534" stroke="#8CCDEA" stroke-width="1.8"/><rect x="526" y="763.37" width="6" height="6" fill="none" stroke="#8CCDEA" stroke-width="1.25"/><path d="M526 763.37L532 769.37M526 769.37L532 763.37" stroke="#8CCDEA" stroke-width="1.0"/><path d="M547.25 772.11H557.25" stroke="#8CCDEA" stroke-width="1.8"/><rect x="549.25" y="769.11" width="6" height="6" fill="none" stroke="#8CCDEA" stroke-width="1.25"/><path d="M549.25 769.11L555.25 775.11M549.25 775.11L555.25 769.11" stroke="#8CCDEA" stroke-width="1.0"/><path d="M570.5 775.93H580.5" stroke="#8CCDEA" stroke-width="1.8"/><rect x="572.5" y="772.93" width="6" height="6" fill="none" stroke="#8CCDEA" stroke-width="1.25"/><path d="M572.5 772.93L578.5 778.93M572.5 778.93L578.5 772.93" stroke="#8CCDEA" stroke-width="1.0"/><path d="M593.75 780.07H603.75" stroke="#8CCDEA" stroke-width="1.8"/><rect x="595.75" y="777.07" width="6" height="6" fill="none" stroke="#8CCDEA" stroke-width="1.25"/><path d="M595.75 777.07L601.75 783.07M595.75 783.07L601.75 777.07" stroke="#8CCDEA" stroke-width="1.0"/><path d="M617 793.45H627" stroke="#8CCDEA" stroke-width="1.8"/><rect x="619" y="790.45" width="6" height="6" fill="none" stroke="#8CCDEA" stroke-width="1.25"/><path d="M619 790.45L625 796.45M619 796.45L625 790.45" stroke="#8CCDEA" stroke-width="1.0"/><path d="M640.25 798.54H650.25" stroke="#8CCDEA" stroke-width="1.8"/><rect x="642.25" y="795.54" width="6" height="6" fill="none" stroke="#8CCDEA" stroke-width="1.25"/><path d="M642.25 795.54L648.25 801.54M642.25 801.54L648.25 795.54" stroke="#8CCDEA" stroke-width="1.0"/><path d="M663.5 799.82H673.5" stroke="#8CCDEA" stroke-width="1.8"/><rect x="665.5" y="796.82" width="6" height="6" fill="none" stroke="#8CCDEA" stroke-width="1.25"/><path d="M665.5 796.82L671.5 802.82M665.5 802.82L671.5 796.82" stroke="#8CCDEA" stroke-width="1.0"/><path d="M431 671.46H441" stroke="#1010D0" stroke-width="1.8"/><path d="M431.76 671.46H440.24M436 667.22V675.7M433 668.46L439 674.46M433 674.46L439 668.46" stroke="#1010D0" stroke-width="1.5625"/><path d="M454.25 689.93H464.25" stroke="#1010D0" stroke-width="1.8"/><path d="M455.01 689.93H463.49M459.25 685.69V694.18M456.25 686.93L462.25 692.93M456.25 692.93L462.25 686.93" stroke="#1010D0" stroke-width="1.5625"/><path d="M477.5 724.65H487.5" stroke="#1010D0" stroke-width="1.8"/><path d="M478.26 724.65H486.74M482.5 720.41V728.89M479.5 721.65L485.5 727.65M479.5 727.65L485.5 721.65" stroke="#1010D0" stroke-width="1.5625"/><path d="M500.75 737.07H510.75" stroke="#1010D0" stroke-width="1.8"/><path d="M501.51 737.07H509.99M505.75 732.83V741.31M502.75 734.07L508.75 740.07M502.75 740.07L508.75 734.07" stroke="#1010D0" stroke-width="1.5625"/><path d="M524 741.53H534" stroke="#1010D0" stroke-width="1.8"/><path d="M524.76 741.53H533.24M529 737.29V745.77M526 738.53L532 744.53M526 744.53L532 738.53" stroke="#1010D0" stroke-width="1.5625"/><path d="M547.25 742.8H557.25" stroke="#1010D0" stroke-width="1.8"/><path d="M548.01 742.8H556.49M552.25 738.56V747.05M549.25 739.8L555.25 745.8M549.25 745.8L555.25 739.8" stroke="#1010D0" stroke-width="1.5625"/><path d="M570.5 742.8H580.5" stroke="#1010D0" stroke-width="1.8"/><path d="M571.26 742.8H579.74M575.5 738.56V747.05M572.5 739.8L578.5 745.8M572.5 745.8L578.5 739.8" stroke="#1010D0" stroke-width="1.5625"/><path d="M593.75 743.12H603.75" stroke="#1010D0" stroke-width="1.8"/><path d="M594.51 743.12H602.99M598.75 738.88V747.36M595.75 740.12L601.75 746.12M595.75 746.12L601.75 740.12" stroke="#1010D0" stroke-width="1.5625"/><path d="M617 743.76H627" stroke="#1010D0" stroke-width="1.8"/><path d="M617.76 743.76H626.24M622 739.52V748M619 740.76L625 746.76M619 746.76L625 740.76" stroke="#1010D0" stroke-width="1.5625"/><path d="M640.25 753.95H650.25" stroke="#1010D0" stroke-width="1.8"/><path d="M641.01 753.95H649.49M645.25 749.71V758.19M642.25 750.95L648.25 756.95M642.25 756.95L648.25 750.95" stroke="#1010D0" stroke-width="1.5625"/><path d="M663.5 765.42H673.5" stroke="#1010D0" stroke-width="1.8"/><path d="M664.26 765.42H672.74M668.5 761.17V769.66M665.5 762.42L671.5 768.42M665.5 768.42L671.5 762.42" stroke="#1010D0" stroke-width="1.5625"/><path d="M431 544.38H441" stroke="#8A3CE0" stroke-width="1.8"/><path d="M436 540.14L440.24 544.38L436 548.62L431.76 544.38ZM431.76 544.38H440.24M436 540.14V548.62" fill="none" stroke="#8A3CE0" stroke-width="1.25"/><path d="M454.25 627.83H464.25" stroke="#8A3CE0" stroke-width="1.8"/><path d="M459.25 623.58L463.49 627.83L459.25 632.07L455.01 627.83ZM455.01 627.83H463.49M459.25 623.58V632.07" fill="none" stroke="#8A3CE0" stroke-width="1.25"/><path d="M477.5 690.57H487.5" stroke="#8A3CE0" stroke-width="1.8"/><path d="M482.5 686.33L486.74 690.57L482.5 694.81L478.26 690.57ZM478.26 690.57H486.74M482.5 686.33V694.81" fill="none" stroke="#8A3CE0" stroke-width="1.25"/><path d="M500.75 710H510.75" stroke="#8A3CE0" stroke-width="1.8"/><path d="M505.75 705.76L509.99 710L505.75 714.24L501.51 710ZM501.51 710H509.99M505.75 705.76V714.24" fill="none" stroke="#8A3CE0" stroke-width="1.25"/><path d="M524 715.09H534" stroke="#8A3CE0" stroke-width="1.8"/><path d="M529 710.85L533.24 715.09L529 719.34L524.76 715.09ZM524.76 715.09H533.24M529 710.85V719.34" fill="none" stroke="#8A3CE0" stroke-width="1.25"/><path d="M547.25 717H557.25" stroke="#8A3CE0" stroke-width="1.8"/><path d="M552.25 712.76L556.49 717L552.25 721.25L548.01 717ZM548.01 717H556.49M552.25 712.76V721.25" fill="none" stroke="#8A3CE0" stroke-width="1.25"/><path d="M570.5 715.73H580.5" stroke="#8A3CE0" stroke-width="1.8"/><path d="M575.5 711.49L579.74 715.73L575.5 719.97L571.26 715.73ZM571.26 715.73H579.74M575.5 711.49V719.97" fill="none" stroke="#8A3CE0" stroke-width="1.25"/><path d="M593.75 715.09H603.75" stroke="#8A3CE0" stroke-width="1.8"/><path d="M598.75 710.85L602.99 715.09L598.75 719.34L594.51 715.09ZM594.51 715.09H602.99M598.75 710.85V719.34" fill="none" stroke="#8A3CE0" stroke-width="1.25"/><path d="M617 713.82H627" stroke="#8A3CE0" stroke-width="1.8"/><path d="M622 709.58L626.24 713.82L622 718.06L617.76 713.82ZM617.76 713.82H626.24M622 709.58V718.06" fill="none" stroke="#8A3CE0" stroke-width="1.25"/><path d="M640.25 718.28H650.25" stroke="#8A3CE0" stroke-width="1.8"/><path d="M645.25 714.04L649.49 718.28L645.25 722.52L641.01 718.28ZM641.01 718.28H649.49M645.25 714.04V722.52" fill="none" stroke="#8A3CE0" stroke-width="1.25"/><path d="M663.5 730.06H673.5" stroke="#8A3CE0" stroke-width="1.8"/><path d="M668.5 725.82L672.74 730.06L668.5 734.31L664.26 730.06ZM664.26 730.06H672.74M668.5 725.82V734.31" fill="none" stroke="#8A3CE0" stroke-width="1.25"/><path d="M431 504.88H441" stroke="#DC70A0" stroke-width="1.8"/><circle cx="436" cy="504.88" r="3" fill="#DC70A0" fill-opacity="0.4" stroke="#DC70A0" stroke-width="1.25"/><path d="M433 504.88H439M436 501.88V507.88" stroke="#DC70A0" stroke-width="1.0"/><path d="M454.25 559.03H464.25" stroke="#DC70A0" stroke-width="1.8"/><circle cx="459.25" cy="559.03" r="3" fill="#DC70A0" fill-opacity="0.4" stroke="#DC70A0" stroke-width="1.25"/><path d="M456.25 559.03H462.25M459.25 556.03V562.03" stroke="#DC70A0" stroke-width="1.0"/><path d="M477.5 627.51H487.5" stroke="#DC70A0" stroke-width="1.8"/><circle cx="482.5" cy="627.51" r="3" fill="#DC70A0" fill-opacity="0.4" stroke="#DC70A0" stroke-width="1.25"/><path d="M479.5 627.51H485.5M482.5 624.51V630.51" stroke="#DC70A0" stroke-width="1.0"/><path d="M500.75 672.1H510.75" stroke="#DC70A0" stroke-width="1.8"/><circle cx="505.75" cy="672.1" r="3" fill="#DC70A0" fill-opacity="0.4" stroke="#DC70A0" stroke-width="1.25"/><path d="M502.75 672.1H508.75M505.75 669.1V675.1" stroke="#DC70A0" stroke-width="1.0"/><path d="M524 694.71H534" stroke="#DC70A0" stroke-width="1.8"/><circle cx="529" cy="694.71" r="3" fill="#DC70A0" fill-opacity="0.4" stroke="#DC70A0" stroke-width="1.25"/><path d="M526 694.71H532M529 691.71V697.71" stroke="#DC70A0" stroke-width="1.0"/><path d="M547.25 704.9H557.25" stroke="#DC70A0" stroke-width="1.8"/><circle cx="552.25" cy="704.9" r="3" fill="#DC70A0" fill-opacity="0.4" stroke="#DC70A0" stroke-width="1.25"/><path d="M549.25 704.9H555.25M552.25 701.9V707.9" stroke="#DC70A0" stroke-width="1.0"/><path d="M570.5 708.72H580.5" stroke="#DC70A0" stroke-width="1.8"/><circle cx="575.5" cy="708.72" r="3" fill="#DC70A0" fill-opacity="0.4" stroke="#DC70A0" stroke-width="1.25"/><path d="M572.5 708.72H578.5M575.5 705.72V711.72" stroke="#DC70A0" stroke-width="1.0"/><path d="M593.75 715.09H603.75" stroke="#DC70A0" stroke-width="1.8"/><circle cx="598.75" cy="715.09" r="3" fill="#DC70A0" fill-opacity="0.4" stroke="#DC70A0" stroke-width="1.25"/><path d="M595.75 715.09H601.75M598.75 712.09V718.09" stroke="#DC70A0" stroke-width="1.0"/><path d="M617 741.85H627" stroke="#DC70A0" stroke-width="1.8"/><circle cx="622" cy="741.85" r="3" fill="#DC70A0" fill-opacity="0.4" stroke="#DC70A0" stroke-width="1.25"/><path d="M619 741.85H625M622 738.85V744.85" stroke="#DC70A0" stroke-width="1.0"/><path d="M640.25 753.95H650.25" stroke="#DC70A0" stroke-width="1.8"/><circle cx="645.25" cy="753.95" r="3" fill="#DC70A0" fill-opacity="0.4" stroke="#DC70A0" stroke-width="1.25"/><path d="M642.25 753.95H648.25M645.25 750.95V756.95" stroke="#DC70A0" stroke-width="1.0"/><path d="M663.5 763.51H673.5" stroke="#DC70A0" stroke-width="1.8"/><circle cx="668.5" cy="763.51" r="3" fill="#DC70A0" fill-opacity="0.4" stroke="#DC70A0" stroke-width="1.25"/><path d="M665.5 763.51H671.5M668.5 760.51V766.51" stroke="#DC70A0" stroke-width="1.0"/><rect x="426.5" y="471.4" width="251.3" height="343.2" fill="none" stroke="#000" stroke-width="1.5"/><path d="M436 814.6V822.9M459.25 814.6V822.9M482.5 814.6V822.9M505.75 814.6V822.9M529 814.6V822.9M552.25 814.6V822.9M575.5 814.6V822.9M598.75 814.6V822.9M622 814.6V822.9M645.25 814.6V822.9M668.5 814.6V822.9M426.5 803H418.2M426.5 739.3H418.2M426.5 675.6H418.2M426.5 611.9H418.2M426.5 548.2H418.2M426.5 484.5H418.2" stroke="#000" stroke-width="1.5" fill="none"/><text x="436" y="843.3" font-size="10.3" letter-spacing="-0.2" text-anchor="middle">.25</text><text x="459.25" y="843.3" font-size="10.3" letter-spacing="-0.2" text-anchor="middle">.50</text><text x="482.5" y="843.3" font-size="10.3" letter-spacing="-0.2" text-anchor="middle">.75</text><text x="505.75" y="843.3" font-size="10.3" letter-spacing="-0.2" text-anchor="middle">1.00</text><text x="529" y="843.3" font-size="10.3" letter-spacing="-0.2" text-anchor="middle">1.25</text><text x="552.25" y="843.3" font-size="10.3" letter-spacing="-0.2" text-anchor="middle">1.50</text><text x="575.5" y="843.3" font-size="10.3" letter-spacing="-0.2" text-anchor="middle">1.75</text><text x="598.75" y="843.3" font-size="10.3" letter-spacing="-0.2" text-anchor="middle">2.00</text><text x="622" y="843.3" font-size="10.3" letter-spacing="-0.2" text-anchor="middle">3.00</text><text x="645.25" y="843.3" font-size="10.3" letter-spacing="-0.2" text-anchor="middle">4.00</text><text x="668.5" y="843.3" font-size="10.3" letter-spacing="-0.2" text-anchor="middle">5.00</text><text transform="translate(408.2 802.2) rotate(-90)" font-size="11.2" text-anchor="middle">0.0</text><text transform="translate(408.2 738.5) rotate(-90)" font-size="11.2" text-anchor="middle">0.2</text><text transform="translate(408.2 674.8) rotate(-90)" font-size="11.2" text-anchor="middle">0.4</text><text transform="translate(408.2 611.1) rotate(-90)" font-size="11.2" text-anchor="middle">0.6</text><text transform="translate(408.2 547.4) rotate(-90)" font-size="11.2" text-anchor="middle">0.8</text><text transform="translate(408.2 483.7) rotate(-90)" font-size="11.2" text-anchor="middle">1.0</text><text x="424.5" y="464.9" font-size="18">D</text><text x="228.6" y="870.8" font-size="18">Divergence Distance (Substitutions Per Site)</text><text transform="translate(76.2 518.4) rotate(-90)" font-size="18">Overall Sensitivity</text><rect x="220.7" y="895.2" width="364.3" height="62.7" fill="none" stroke="#444" stroke-width="1.6"/><rect x="236.7" y="910.3" width="5.8" height="5.8" fill="none" stroke="#000000" stroke-width="1.0"/><text x="257.3" y="917.6" font-size="12.6">Avid</text><circle cx="239.6" cy="928.3" r="2.9" fill="none" stroke="#708090" stroke-width="1.0"/><text x="257.3" y="932.5" font-size="12.6">ClustalW</text><path d="M239.5 939.49L243.41 946.26L235.59 946.26Z" fill="none" stroke="#9A1A26" stroke-width="1.0"/><text x="257.3" y="946.8" font-size="12.6">DiAlign</text><path d="M324.1 913H332.3M328.2 908.9V917.1" stroke="#E8141C" stroke-width="1.0"/><text x="345.6" y="915.8" font-size="12.6">Lagan</text><path d="M325.1 925.4L330.9 931.2M325.1 931.2L330.9 925.4" stroke="#F0A21E" stroke-width="1.0"/><text x="345.6" y="932.8" font-size="12.6">Needle</text><path d="M410.5 906.4L414.6 910.5L410.5 914.6L406.4 910.5Z" fill="none" stroke="#1ECC1E" stroke-width="1.0"/><text x="428.5" y="914.6" font-size="12.6">BlastZ</text><path d="M410.4 930.21L414.31 923.44L406.49 923.44Z" fill="none" stroke="#128C12" stroke-width="1.0"/><text x="428.5" y="929.7" font-size="12.6">BlastZ-A</text><rect x="407.6" y="938.1" width="5.8" height="5.8" fill="none" stroke="#8CCDEA" stroke-width="1.0"/><path d="M407.6 938.1L413.4 943.9M407.6 943.9L413.4 938.1" stroke="#8CCDEA" stroke-width="0.8"/><text x="428.5" y="945.4" font-size="12.6">Chaos</text><path d="M491.2 907.7H499.4M495.3 903.6V911.8M492.4 904.8L498.2 910.6M492.4 910.6L498.2 904.8" stroke="#1010D0" stroke-width="1.25"/><text x="512.9" y="911.8" font-size="12.6">Chaos-A</text><path d="M495.3 918.9L499.4 923L495.3 927.1L491.2 923ZM491.2 923H499.4M495.3 918.9V927.1" fill="none" stroke="#8A3CE0" stroke-width="1.0"/><text x="512.9" y="927" font-size="12.6">DiAlign-L</text><circle cx="494.9" cy="938.5" r="2.9" fill="#DC70A0" fill-opacity="0.4" stroke="#DC70A0" stroke-width="1.0"/><path d="M492 938.5H497.8M494.9 935.6V941.4" stroke="#DC70A0" stroke-width="0.8"/><text x="512.9" y="942.3" font-size="12.6">WABA</text></svg></body></html>
